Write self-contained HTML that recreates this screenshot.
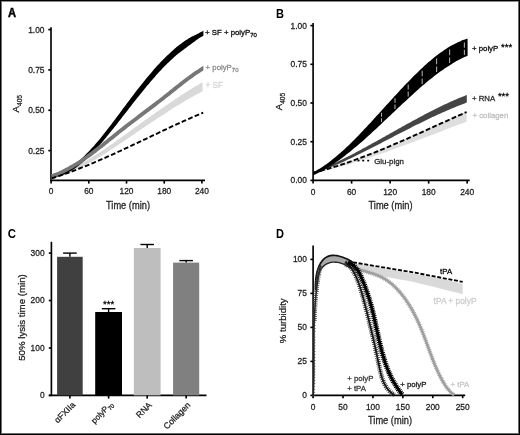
<!DOCTYPE html>
<html><head><meta charset="utf-8"><style>
html,body{margin:0;padding:0;background:#fff;}
body{width:520px;height:435px;overflow:hidden;position:relative;font-family:"Liberation Sans", sans-serif;}
svg text{font-family:"Liberation Sans", sans-serif;}
svg{will-change:transform;}
svg text{stroke-width:0.26px;}
.bd{position:absolute;background:#000;}
</style></head><body>
<svg width="520" height="435" viewBox="0 0 520 435" style="position:absolute;left:0;top:0">
<line x1="51.00" y1="27.30" x2="51.00" y2="181.10" stroke="#000" stroke-width="1.65" />
<line x1="50.30" y1="180.40" x2="205.00" y2="180.40" stroke="#000" stroke-width="1.65" />
<line x1="48.30" y1="29.60" x2="51.00" y2="29.60" stroke="#000" stroke-width="1.65" />
<text x="44.50" y="32.50" font-size="8.40" text-anchor="end" fill="#222" stroke="#222" font-weight="normal" >1.00</text>
<line x1="48.30" y1="69.93" x2="51.00" y2="69.93" stroke="#000" stroke-width="1.65" />
<text x="44.50" y="72.83" font-size="8.40" text-anchor="end" fill="#222" stroke="#222" font-weight="normal" >0.75</text>
<line x1="48.30" y1="110.27" x2="51.00" y2="110.27" stroke="#000" stroke-width="1.65" />
<text x="44.50" y="113.17" font-size="8.40" text-anchor="end" fill="#222" stroke="#222" font-weight="normal" >0.50</text>
<line x1="48.30" y1="150.60" x2="51.00" y2="150.60" stroke="#000" stroke-width="1.65" />
<text x="44.50" y="153.50" font-size="8.40" text-anchor="end" fill="#222" stroke="#222" font-weight="normal" >0.25</text>
<line x1="51.10" y1="180.40" x2="51.10" y2="183.60" stroke="#000" stroke-width="1.65" />
<text x="51.10" y="194.40" font-size="8.40" text-anchor="middle" fill="#222" stroke="#222" font-weight="normal" >0</text>
<line x1="88.81" y1="180.40" x2="88.81" y2="183.60" stroke="#000" stroke-width="1.65" />
<text x="88.81" y="194.40" font-size="8.40" text-anchor="middle" fill="#222" stroke="#222" font-weight="normal" >60</text>
<line x1="126.52" y1="180.40" x2="126.52" y2="183.60" stroke="#000" stroke-width="1.65" />
<text x="126.52" y="194.40" font-size="8.40" text-anchor="middle" fill="#222" stroke="#222" font-weight="normal" >120</text>
<line x1="164.23" y1="180.40" x2="164.23" y2="183.60" stroke="#000" stroke-width="1.65" />
<text x="164.23" y="194.40" font-size="8.40" text-anchor="middle" fill="#222" stroke="#222" font-weight="normal" >180</text>
<line x1="201.94" y1="180.40" x2="201.94" y2="183.60" stroke="#000" stroke-width="1.65" />
<text x="201.94" y="194.40" font-size="8.40" text-anchor="middle" fill="#222" stroke="#222" font-weight="normal" >240</text>
<text x="128.00" y="208.60" font-size="10.00" text-anchor="middle" fill="#222" stroke="#222" font-weight="normal" textLength="44" lengthAdjust="spacingAndGlyphs">Time (min)</text>
<text transform="translate(18.9,112.4) rotate(-90)" font-size="9.6" fill="#222" stroke="#222">A<tspan font-size="6.6" dy="3.0">405</tspan></text>
<text transform="translate(8.1,17.3) scale(0.93,1)" font-size="12" font-weight="bold" fill="#000" stroke="#000" style="stroke-width:0.45px">A</text>
<path d="M51.50,176.91 C51.83,176.80 52.83,176.48 53.50,176.25 C54.17,176.02 54.83,175.79 55.50,175.55 C56.17,175.31 56.83,175.06 57.50,174.81 C58.17,174.56 58.83,174.30 59.50,174.04 C60.17,173.77 60.83,173.50 61.50,173.23 C62.17,172.95 62.83,172.67 63.50,172.38 C64.17,172.10 64.83,171.80 65.50,171.51 C66.17,171.21 66.83,170.91 67.50,170.60 C68.17,170.29 68.83,169.97 69.50,169.66 C70.17,169.34 70.83,169.01 71.50,168.68 C72.17,168.35 72.83,168.02 73.50,167.68 C74.17,167.34 74.83,167.00 75.50,166.65 C76.17,166.30 76.83,165.95 77.50,165.59 C78.17,165.24 78.83,164.88 79.50,164.51 C80.17,164.14 80.83,163.77 81.50,163.40 C82.17,163.03 82.83,162.65 83.50,162.26 C84.17,161.88 84.83,161.50 85.50,161.11 C86.17,160.72 86.83,160.32 87.50,159.92 C88.17,159.53 88.83,159.12 89.50,158.72 C90.17,158.31 90.83,157.91 91.50,157.49 C92.17,157.08 92.83,156.67 93.50,156.25 C94.17,155.83 94.83,155.41 95.50,154.98 C96.17,154.56 96.83,154.13 97.50,153.70 C98.17,153.27 98.83,152.84 99.50,152.40 C100.17,151.96 100.83,151.52 101.50,151.08 C102.17,150.64 102.83,150.20 103.50,149.75 C104.17,149.30 104.83,148.86 105.50,148.40 C106.17,147.95 106.83,147.50 107.50,147.04 C108.17,146.59 108.83,146.13 109.50,145.67 C110.17,145.21 110.83,144.75 111.50,144.28 C112.17,143.82 112.83,143.36 113.50,142.89 C114.17,142.42 114.83,141.95 115.50,141.48 C116.17,141.01 116.83,140.54 117.50,140.07 C118.17,139.60 118.83,139.12 119.50,138.65 C120.17,138.17 120.83,137.69 121.50,137.22 C122.17,136.74 122.83,136.26 123.50,135.78 C124.17,135.30 124.83,134.82 125.50,134.34 C126.17,133.86 126.83,133.38 127.50,132.89 C128.17,132.41 128.83,131.93 129.50,131.44 C130.17,130.96 130.83,130.48 131.50,129.99 C132.17,129.51 132.83,129.03 133.50,128.54 C134.17,128.06 134.83,127.57 135.50,127.09 C136.17,126.60 136.83,126.12 137.50,125.64 C138.17,125.15 138.83,124.67 139.50,124.18 C140.17,123.70 140.83,123.22 141.50,122.74 C142.17,122.25 142.83,121.77 143.50,121.29 C144.17,120.81 144.83,120.33 145.50,119.85 C146.17,119.37 146.83,118.89 147.50,118.41 C148.17,117.93 148.83,117.46 149.50,116.98 C150.17,116.50 150.83,116.03 151.50,115.55 C152.17,115.08 152.83,114.61 153.50,114.13 C154.17,113.66 154.83,113.19 155.50,112.72 C156.17,112.25 156.83,111.78 157.50,111.31 C158.17,110.84 158.83,110.38 159.50,109.91 C160.17,109.45 160.83,108.98 161.50,108.52 C162.17,108.05 162.83,107.59 163.50,107.13 C164.17,106.67 164.83,106.21 165.50,105.76 C166.17,105.30 166.83,104.84 167.50,104.39 C168.17,103.93 168.83,103.48 169.50,103.03 C170.17,102.58 170.83,102.13 171.50,101.68 C172.17,101.23 172.83,100.78 173.50,100.34 C174.17,99.89 174.83,99.45 175.50,99.01 C176.17,98.57 176.83,98.13 177.50,97.69 C178.17,97.25 178.83,96.82 179.50,96.38 C180.17,95.95 180.83,95.52 181.50,95.09 C182.17,94.66 182.83,94.23 183.50,93.80 C184.17,93.38 184.83,92.95 185.50,92.53 C186.17,92.11 186.83,91.69 187.50,91.27 C188.17,90.85 188.83,90.44 189.50,90.03 C190.17,89.61 190.83,89.20 191.50,88.79 C192.17,88.39 192.83,87.98 193.50,87.58 C194.17,87.17 194.83,86.77 195.50,86.37 C196.17,85.97 196.83,85.58 197.50,85.18 C198.17,84.79 198.83,84.40 199.50,84.01 C200.17,83.62 200.98,83.15 201.50,82.85 C202.02,82.55 202.42,82.33 202.60,82.22 L202.60,91.22 C202.42,91.32 202.02,91.53 201.50,91.80 C200.98,92.08 200.17,92.52 199.50,92.88 C198.83,93.24 198.17,93.60 197.50,93.96 C196.83,94.33 196.17,94.70 195.50,95.07 C194.83,95.44 194.17,95.81 193.50,96.18 C192.83,96.56 192.17,96.94 191.50,97.32 C190.83,97.70 190.17,98.08 189.50,98.46 C188.83,98.85 188.17,99.23 187.50,99.62 C186.83,100.01 186.17,100.40 185.50,100.80 C184.83,101.19 184.17,101.58 183.50,101.98 C182.83,102.38 182.17,102.78 181.50,103.18 C180.83,103.58 180.17,103.98 179.50,104.39 C178.83,104.79 178.17,105.20 177.50,105.61 C176.83,106.02 176.17,106.43 175.50,106.84 C174.83,107.26 174.17,107.67 173.50,108.09 C172.83,108.50 172.17,108.92 171.50,109.34 C170.83,109.76 170.17,110.18 169.50,110.60 C168.83,111.03 168.17,111.45 167.50,111.88 C166.83,112.30 166.17,112.73 165.50,113.16 C164.83,113.59 164.17,114.02 163.50,114.45 C162.83,114.88 162.17,115.32 161.50,115.75 C160.83,116.18 160.17,116.62 159.50,117.06 C158.83,117.49 158.17,117.93 157.50,118.37 C156.83,118.81 156.17,119.25 155.50,119.69 C154.83,120.13 154.17,120.58 153.50,121.02 C152.83,121.47 152.17,121.91 151.50,122.36 C150.83,122.80 150.17,123.25 149.50,123.70 C148.83,124.14 148.17,124.59 147.50,125.04 C146.83,125.49 146.17,125.94 145.50,126.39 C144.83,126.84 144.17,127.30 143.50,127.75 C142.83,128.20 142.17,128.65 141.50,129.11 C140.83,129.56 140.17,130.02 139.50,130.47 C138.83,130.92 138.17,131.38 137.50,131.84 C136.83,132.29 136.17,132.75 135.50,133.20 C134.83,133.66 134.17,134.11 133.50,134.57 C132.83,135.02 132.17,135.48 131.50,135.94 C130.83,136.39 130.17,136.85 129.50,137.30 C128.83,137.75 128.17,138.21 127.50,138.66 C126.83,139.12 126.17,139.57 125.50,140.02 C124.83,140.47 124.17,140.93 123.50,141.38 C122.83,141.83 122.17,142.28 121.50,142.73 C120.83,143.18 120.17,143.62 119.50,144.07 C118.83,144.52 118.17,144.96 117.50,145.41 C116.83,145.85 116.17,146.29 115.50,146.74 C114.83,147.18 114.17,147.62 113.50,148.06 C112.83,148.49 112.17,148.93 111.50,149.37 C110.83,149.80 110.17,150.23 109.50,150.66 C108.83,151.10 108.17,151.53 107.50,151.95 C106.83,152.38 106.17,152.80 105.50,153.23 C104.83,153.65 104.17,154.07 103.50,154.49 C102.83,154.91 102.17,155.32 101.50,155.73 C100.83,156.15 100.17,156.56 99.50,156.97 C98.83,157.37 98.17,157.78 97.50,158.18 C96.83,158.58 96.17,158.98 95.50,159.38 C94.83,159.77 94.17,160.17 93.50,160.56 C92.83,160.95 92.17,161.33 91.50,161.71 C90.83,162.10 90.17,162.48 89.50,162.85 C88.83,163.23 88.17,163.60 87.50,163.97 C86.83,164.34 86.17,164.71 85.50,165.07 C84.83,165.43 84.17,165.79 83.50,166.14 C82.83,166.50 82.17,166.85 81.50,167.19 C80.83,167.54 80.17,167.88 79.50,168.21 C78.83,168.55 78.17,168.88 77.50,169.21 C76.83,169.54 76.17,169.87 75.50,170.18 C74.83,170.50 74.17,170.82 73.50,171.13 C72.83,171.44 72.17,171.74 71.50,172.04 C70.83,172.34 70.17,172.64 69.50,172.93 C68.83,173.22 68.17,173.51 67.50,173.78 C66.83,174.06 66.17,174.34 65.50,174.61 C64.83,174.88 64.17,175.14 63.50,175.40 C62.83,175.66 62.17,175.91 61.50,176.16 C60.83,176.40 60.17,176.65 59.50,176.88 C58.83,177.12 58.17,177.35 57.50,177.57 C56.83,177.79 56.17,178.01 55.50,178.22 C54.83,178.43 54.17,178.64 53.50,178.84 C52.83,179.04 51.83,179.32 51.50,179.41 Z" stroke="none" stroke-width="1.00" fill="#d9d9d9" />
<defs><clipPath id="clA"><rect x="40" y="20" width="163.4" height="170"/></clipPath></defs>
<path d="M51.39,174.41 C51.71,174.38 52.69,174.32 53.33,174.24 C53.97,174.17 54.60,174.07 55.23,173.95 C55.86,173.83 56.50,173.69 57.13,173.53 C57.77,173.37 58.40,173.19 59.04,172.99 C59.68,172.79 60.31,172.57 60.95,172.33 C61.59,172.08 62.23,171.82 62.87,171.54 C63.51,171.26 64.15,170.96 64.79,170.64 C65.43,170.32 66.08,169.99 66.72,169.63 C67.36,169.27 68.01,168.90 68.65,168.51 C69.30,168.12 69.95,167.71 70.59,167.28 C71.24,166.85 71.89,166.41 72.54,165.95 C73.18,165.49 73.83,165.01 74.48,164.52 C75.13,164.03 75.78,163.52 76.43,163.00 C77.08,162.48 77.74,161.94 78.39,161.38 C79.04,160.83 79.69,160.26 80.34,159.68 C81.00,159.10 81.65,158.50 82.30,157.89 C82.96,157.29 83.61,156.66 84.27,156.03 C84.92,155.39 85.58,154.74 86.23,154.09 C86.89,153.43 87.54,152.75 88.20,152.07 C88.85,151.39 89.51,150.69 90.17,149.99 C90.82,149.28 91.48,148.57 92.14,147.84 C92.79,147.12 93.45,146.38 94.11,145.64 C94.77,144.89 95.43,144.13 96.08,143.37 C96.74,142.61 97.40,141.84 98.06,141.06 C98.71,140.27 99.37,139.48 100.02,138.68 C100.68,137.89 101.33,137.08 101.99,136.26 C102.64,135.45 103.30,134.63 103.96,133.81 C104.61,132.98 105.27,132.15 105.92,131.31 C106.58,130.47 107.23,129.63 107.89,128.78 C108.55,127.93 109.20,127.08 109.86,126.22 C110.51,125.37 111.17,124.50 111.83,123.64 C112.48,122.77 113.14,121.91 113.80,121.03 C114.45,120.16 115.11,119.29 115.77,118.41 C116.43,117.54 117.08,116.66 117.74,115.78 C118.40,114.90 119.06,114.02 119.71,113.13 C120.37,112.25 121.03,111.37 121.69,110.48 C122.35,109.60 123.00,108.72 123.66,107.83 C124.32,106.95 124.98,106.06 125.64,105.18 C126.30,104.30 126.96,103.42 127.62,102.54 C128.27,101.66 128.93,100.78 129.59,99.90 C130.25,99.03 130.91,98.15 131.57,97.28 C132.23,96.41 132.89,95.54 133.55,94.68 C134.21,93.81 134.87,92.95 135.53,92.09 C136.19,91.23 136.86,90.38 137.52,89.53 C138.18,88.68 138.84,87.83 139.50,86.99 C140.16,86.15 140.82,85.31 141.48,84.48 C142.14,83.64 142.81,82.81 143.47,81.99 C144.13,81.17 144.79,80.35 145.46,79.54 C146.12,78.72 146.78,77.92 147.44,77.12 C148.11,76.31 148.77,75.52 149.44,74.73 C150.10,73.95 150.77,73.16 151.43,72.39 C152.10,71.61 152.77,70.85 153.43,70.09 C154.10,69.33 154.76,68.57 155.43,67.83 C156.10,67.08 156.77,66.34 157.43,65.61 C158.10,64.88 158.77,64.16 159.44,63.44 C160.11,62.73 160.77,62.02 161.44,61.32 C162.11,60.62 162.78,59.93 163.45,59.25 C164.12,58.57 164.79,57.90 165.47,57.24 C166.14,56.58 166.81,55.93 167.48,55.29 C168.15,54.64 168.83,54.01 169.50,53.39 C170.17,52.77 170.84,52.15 171.52,51.55 C172.19,50.94 172.86,50.35 173.54,49.76 C174.21,49.18 174.88,48.60 175.56,48.04 C176.23,47.47 176.91,46.91 177.58,46.36 C178.26,45.81 178.93,45.27 179.60,44.74 C180.28,44.21 180.95,43.69 181.63,43.18 C182.31,42.66 182.98,42.16 183.66,41.67 C184.35,41.18 185.04,40.72 185.73,40.26 C186.43,39.81 187.13,39.38 187.83,38.95 C188.53,38.53 189.24,38.13 189.95,37.73 C190.65,37.33 191.37,36.95 192.07,36.58 C192.78,36.21 193.49,35.84 194.20,35.49 C194.91,35.13 195.61,34.78 196.32,34.43 C197.02,34.08 197.72,33.74 198.41,33.40 C199.11,33.05 199.96,32.63 200.48,32.37 C200.99,32.11 200.83,32.20 201.50,31.86 C202.17,31.51 204.00,30.55 204.50,30.29 L206.50,34.10 C206.00,34.36 204.16,35.32 203.50,35.67 C202.84,36.02 203.01,35.93 202.52,36.21 C202.04,36.48 201.23,36.95 200.59,37.34 C199.95,37.73 199.31,38.14 198.68,38.56 C198.05,38.97 197.43,39.40 196.80,39.84 C196.17,40.28 195.55,40.73 194.93,41.18 C194.30,41.63 193.68,42.09 193.05,42.56 C192.43,43.02 191.80,43.49 191.17,43.96 C190.54,44.42 189.91,44.90 189.27,45.37 C188.63,45.84 187.99,46.31 187.34,46.78 C186.69,47.26 186.03,47.72 185.37,48.20 C184.71,48.68 184.05,49.17 183.40,49.66 C182.74,50.16 182.08,50.66 181.42,51.18 C180.76,51.69 180.10,52.22 179.44,52.75 C178.78,53.28 178.12,53.82 177.46,54.37 C176.80,54.92 176.14,55.48 175.48,56.05 C174.82,56.62 174.16,57.20 173.50,57.79 C172.84,58.38 172.18,58.98 171.52,59.59 C170.86,60.20 170.20,60.82 169.53,61.45 C168.87,62.07 168.21,62.71 167.55,63.36 C166.88,64.01 166.22,64.67 165.56,65.34 C164.89,66.00 164.23,66.68 163.56,67.37 C162.90,68.05 162.23,68.75 161.57,69.45 C160.90,70.16 160.24,70.87 159.57,71.59 C158.90,72.31 158.24,73.04 157.57,73.77 C156.90,74.51 156.23,75.25 155.57,76.00 C154.90,76.75 154.23,77.51 153.56,78.28 C152.89,79.04 152.23,79.81 151.56,80.59 C150.89,81.37 150.22,82.15 149.54,82.94 C148.87,83.73 148.20,84.53 147.53,85.33 C146.86,86.13 146.19,86.93 145.52,87.75 C144.84,88.56 144.17,89.37 143.50,90.20 C142.83,91.02 142.16,91.84 141.48,92.68 C140.81,93.51 140.14,94.34 139.47,95.18 C138.79,96.02 138.12,96.86 137.45,97.71 C136.77,98.56 136.10,99.41 135.43,100.26 C134.75,101.12 134.08,101.97 133.41,102.83 C132.73,103.69 132.06,104.55 131.38,105.42 C130.71,106.28 130.04,107.15 129.36,108.02 C128.69,108.89 128.01,109.76 127.34,110.63 C126.66,111.50 125.99,112.37 125.31,113.24 C124.64,114.11 123.96,114.98 123.29,115.85 C122.61,116.72 121.93,117.59 121.26,118.46 C120.58,119.33 119.91,120.20 119.23,121.06 C118.55,121.93 117.88,122.79 117.20,123.66 C116.53,124.52 115.85,125.38 115.17,126.23 C114.50,127.09 113.82,127.94 113.14,128.79 C112.46,129.64 111.79,130.48 111.11,131.32 C110.43,132.16 109.76,133.00 109.08,133.83 C108.40,134.66 107.72,135.49 107.04,136.31 C106.37,137.13 105.69,137.94 105.01,138.75 C104.33,139.56 103.65,140.36 102.98,141.15 C102.30,141.95 101.62,142.74 100.94,143.52 C100.27,144.30 99.59,145.08 98.92,145.84 C98.24,146.61 97.57,147.37 96.89,148.12 C96.21,148.87 95.54,149.61 94.86,150.34 C94.19,151.07 93.51,151.79 92.83,152.50 C92.16,153.21 91.48,153.91 90.80,154.60 C90.12,155.29 89.45,155.97 88.77,156.64 C88.09,157.30 87.41,157.96 86.73,158.60 C86.05,159.24 85.37,159.87 84.70,160.49 C84.02,161.11 83.34,161.72 82.66,162.31 C81.97,162.90 81.29,163.48 80.61,164.04 C79.93,164.60 79.25,165.15 78.57,165.69 C77.88,166.22 77.20,166.74 76.52,167.25 C75.83,167.75 75.15,168.24 74.46,168.71 C73.78,169.18 73.09,169.64 72.41,170.08 C71.72,170.52 71.03,170.94 70.35,171.34 C69.66,171.75 68.97,172.14 68.28,172.50 C67.59,172.87 66.90,173.22 66.21,173.55 C65.52,173.88 64.82,174.20 64.13,174.49 C63.44,174.78 62.74,175.05 62.05,175.30 C61.35,175.55 60.66,175.78 59.96,175.99 C59.26,176.20 58.57,176.39 57.87,176.55 C57.17,176.72 56.47,176.86 55.77,176.98 C55.07,177.10 54.36,177.20 53.67,177.27 C52.97,177.34 51.96,177.38 51.61,177.41 Z" stroke="none" stroke-width="1.00" fill="#000" clip-path="url(#clA)"/>
<path d="M50.91,174.32 C51.24,174.21 52.23,173.89 52.88,173.67 C53.54,173.44 54.18,173.21 54.83,172.97 C55.48,172.72 56.14,172.47 56.79,172.20 C57.44,171.94 58.09,171.67 58.75,171.38 C59.40,171.10 60.05,170.81 60.71,170.51 C61.36,170.21 62.01,169.90 62.67,169.58 C63.32,169.26 63.98,168.94 64.63,168.60 C65.29,168.27 65.95,167.92 66.60,167.57 C67.26,167.22 67.91,166.86 68.57,166.50 C69.23,166.13 69.89,165.76 70.54,165.37 C71.20,164.99 71.86,164.60 72.52,164.21 C73.18,163.81 73.84,163.41 74.49,163.00 C75.15,162.59 75.81,162.18 76.47,161.75 C77.13,161.33 77.79,160.90 78.45,160.47 C79.11,160.04 79.77,159.59 80.43,159.15 C81.09,158.70 81.75,158.25 82.42,157.80 C83.08,157.34 83.74,156.88 84.40,156.41 C85.06,155.95 85.72,155.47 86.38,155.00 C87.05,154.52 87.71,154.04 88.37,153.56 C89.03,153.07 89.70,152.58 90.36,152.09 C91.02,151.60 91.69,151.10 92.35,150.60 C93.01,150.10 93.68,149.60 94.34,149.09 C95.00,148.59 95.67,148.08 96.33,147.56 C96.99,147.05 97.66,146.54 98.32,146.02 C98.99,145.50 99.65,144.98 100.32,144.46 C100.98,143.94 101.65,143.41 102.31,142.89 C102.98,142.36 103.64,141.83 104.31,141.30 C104.97,140.77 105.64,140.24 106.30,139.71 C106.97,139.18 107.64,138.65 108.30,138.11 C108.97,137.58 109.63,137.05 110.30,136.51 C110.97,135.98 111.63,135.44 112.30,134.91 C112.97,134.37 113.63,133.84 114.30,133.30 C114.97,132.77 115.63,132.24 116.30,131.70 C116.97,131.17 117.64,130.64 118.30,130.10 C118.97,129.57 119.64,129.04 120.31,128.51 C120.97,127.98 121.64,127.45 122.31,126.93 C122.98,126.40 123.65,125.88 124.32,125.36 C124.98,124.83 125.65,124.31 126.32,123.79 C126.99,123.28 127.66,122.76 128.33,122.24 C128.99,121.73 129.66,121.22 130.33,120.70 C131.00,120.19 131.66,119.68 132.33,119.17 C133.00,118.66 133.67,118.16 134.34,117.65 C135.00,117.14 135.67,116.64 136.34,116.13 C137.00,115.63 137.67,115.13 138.34,114.62 C139.01,114.12 139.67,113.62 140.34,113.11 C141.01,112.61 141.67,112.11 142.34,111.61 C143.01,111.11 143.67,110.60 144.34,110.10 C145.01,109.60 145.67,109.10 146.34,108.60 C147.00,108.10 147.67,107.59 148.34,107.09 C149.00,106.59 149.67,106.09 150.33,105.58 C151.00,105.08 151.67,104.57 152.33,104.07 C153.00,103.56 153.66,103.06 154.33,102.55 C154.99,102.04 155.66,101.53 156.32,101.02 C156.99,100.51 157.65,100.00 158.32,99.49 C158.98,98.98 159.65,98.46 160.31,97.95 C160.98,97.43 161.64,96.91 162.31,96.39 C162.97,95.87 163.64,95.35 164.30,94.83 C164.97,94.30 165.63,93.78 166.30,93.25 C166.96,92.72 167.63,92.19 168.29,91.66 C168.96,91.13 169.62,90.60 170.29,90.07 C170.96,89.53 171.62,89.00 172.29,88.47 C172.96,87.93 173.62,87.40 174.29,86.87 C174.96,86.33 175.62,85.80 176.29,85.27 C176.96,84.74 177.63,84.21 178.30,83.68 C178.97,83.15 179.63,82.63 180.30,82.10 C180.97,81.58 181.64,81.06 182.31,80.54 C182.98,80.02 183.65,79.50 184.32,78.99 C184.99,78.48 185.66,77.97 186.33,77.46 C187.00,76.96 187.67,76.45 188.34,75.96 C189.01,75.46 189.69,74.97 190.36,74.48 C191.03,73.99 191.70,73.51 192.38,73.03 C193.05,72.56 193.72,72.09 194.40,71.62 C195.07,71.16 195.74,70.70 196.42,70.25 C197.09,69.80 197.77,69.35 198.44,68.91 C199.12,68.48 199.97,67.94 200.46,67.63 C200.95,67.32 200.72,67.47 201.38,67.06 C202.03,66.66 203.87,65.52 204.37,65.21 L206.43,68.53 C205.93,68.83 204.07,69.98 203.42,70.38 C202.78,70.78 203.02,70.63 202.54,70.93 C202.06,71.23 201.22,71.76 200.56,72.18 C199.90,72.61 199.24,73.04 198.58,73.48 C197.92,73.92 197.26,74.37 196.60,74.83 C195.95,75.28 195.28,75.74 194.62,76.21 C193.96,76.68 193.30,77.15 192.64,77.63 C191.98,78.11 191.32,78.59 190.66,79.08 C189.99,79.57 189.33,80.07 188.67,80.57 C188.01,81.07 187.34,81.57 186.68,82.08 C186.02,82.58 185.35,83.10 184.69,83.61 C184.03,84.12 183.36,84.64 182.70,85.16 C182.03,85.68 181.37,86.20 180.70,86.73 C180.04,87.25 179.37,87.78 178.71,88.31 C178.04,88.84 177.38,89.37 176.71,89.90 C176.04,90.43 175.38,90.96 174.71,91.50 C174.04,92.03 173.38,92.56 172.71,93.10 C172.04,93.63 171.38,94.16 170.71,94.69 C170.04,95.23 169.37,95.76 168.70,96.29 C168.04,96.82 167.37,97.35 166.70,97.87 C166.03,98.40 165.36,98.92 164.69,99.45 C164.02,99.97 163.36,100.49 162.69,101.01 C162.02,101.53 161.35,102.04 160.68,102.56 C160.01,103.07 159.34,103.58 158.68,104.10 C158.01,104.61 157.34,105.12 156.67,105.63 C156.00,106.14 155.34,106.64 154.67,107.15 C154.00,107.66 153.33,108.16 152.67,108.67 C152.00,109.17 151.33,109.67 150.66,110.18 C150.00,110.68 149.33,111.18 148.66,111.68 C147.99,112.19 147.33,112.69 146.66,113.19 C145.99,113.69 145.33,114.19 144.66,114.69 C143.99,115.19 143.33,115.69 142.66,116.20 C141.99,116.70 141.33,117.20 140.66,117.70 C139.99,118.20 139.33,118.71 138.66,119.21 C138.00,119.71 137.33,120.22 136.66,120.72 C136.00,121.23 135.33,121.73 134.67,122.24 C134.00,122.75 133.34,123.25 132.67,123.76 C132.01,124.27 131.34,124.78 130.67,125.29 C130.01,125.81 129.34,126.32 128.68,126.84 C128.01,127.35 127.35,127.87 126.68,128.39 C126.02,128.91 125.35,129.43 124.69,129.95 C124.02,130.47 123.36,131.00 122.69,131.53 C122.03,132.05 121.36,132.58 120.70,133.11 C120.03,133.64 119.37,134.17 118.70,134.70 C118.03,135.24 117.37,135.77 116.70,136.30 C116.03,136.84 115.37,137.37 114.70,137.90 C114.03,138.44 113.37,138.97 112.70,139.51 C112.03,140.04 111.37,140.58 110.70,141.11 C110.03,141.64 109.36,142.18 108.70,142.71 C108.03,143.24 107.36,143.78 106.69,144.31 C106.03,144.84 105.36,145.37 104.69,145.89 C104.02,146.42 103.35,146.95 102.68,147.47 C102.01,148.00 101.35,148.52 100.68,149.04 C100.01,149.56 99.34,150.08 98.67,150.60 C98.00,151.11 97.33,151.63 96.66,152.14 C95.99,152.65 95.32,153.16 94.65,153.66 C93.98,154.16 93.31,154.67 92.64,155.16 C91.97,155.66 91.30,156.15 90.63,156.64 C89.96,157.13 89.29,157.62 88.62,158.10 C87.94,158.59 87.27,159.06 86.60,159.54 C85.93,160.01 85.26,160.48 84.58,160.94 C83.91,161.40 83.24,161.86 82.57,162.32 C81.89,162.77 81.22,163.22 80.55,163.66 C79.88,164.10 79.20,164.54 78.53,164.97 C77.85,165.40 77.18,165.82 76.51,166.24 C75.83,166.66 75.16,167.07 74.48,167.48 C73.81,167.88 73.13,168.28 72.46,168.67 C71.78,169.06 71.10,169.45 70.43,169.83 C69.75,170.20 69.08,170.57 68.40,170.93 C67.72,171.30 67.04,171.65 66.37,172.00 C65.69,172.34 65.01,172.68 64.33,173.01 C63.65,173.34 62.97,173.66 62.29,173.97 C61.61,174.28 60.93,174.58 60.25,174.88 C59.57,175.17 58.89,175.46 58.21,175.73 C57.53,176.01 56.85,176.27 56.17,176.53 C55.48,176.78 54.80,177.03 54.12,177.26 C53.44,177.50 52.43,177.82 52.09,177.93 Z" stroke="none" stroke-width="1.00" fill="#777777" clip-path="url(#clA)"/>
<path d="M51.50,178.35 L53.50,177.73 L55.50,177.09 L57.50,176.44 L59.50,175.78 L61.50,175.11 L63.50,174.42 L65.50,173.72 L67.50,173.01 L69.50,172.29 L71.50,171.55 L73.50,170.81 L75.50,170.05 L77.50,169.28 L79.50,168.51 L81.50,167.72 L83.50,166.92 L85.50,166.11 L87.50,165.30 L89.50,164.48 L91.50,163.64 L93.50,162.80 L95.50,161.95 L97.50,161.10 L99.50,160.23 L101.50,159.36 L103.50,158.48 L105.50,157.60 L107.50,156.71 L109.50,155.81 L111.50,154.91 L113.50,154.01 L115.50,153.09 L117.50,152.18 L119.50,151.26 L121.50,150.33 L123.50,149.40 L125.50,148.47 L127.50,147.53 L129.50,146.60 L131.50,145.65 L133.50,144.71 L135.50,143.76 L137.50,142.82 L139.50,141.87 L141.50,140.92 L143.50,139.97 L145.50,139.02 L147.50,138.06 L149.50,137.11 L151.50,136.16 L153.50,135.21 L155.50,134.26 L157.50,133.31 L159.50,132.37 L161.50,131.42 L163.50,130.48 L165.50,129.54 L167.50,128.60 L169.50,127.66 L171.50,126.73 L173.50,125.80 L175.50,124.88 L177.50,123.95 L179.50,123.04 L181.50,122.13 L183.50,121.22 L185.50,120.32 L187.50,119.42 L189.50,118.53 L191.50,117.65 L193.50,116.77 L195.50,115.90 L197.50,115.04 L199.50,114.18 L201.50,113.33 L203.20,112.62" stroke="#000" stroke-width="1.90" fill="none" stroke-dasharray="4.8 2.3"/>
<text x="205.10" y="35.20" font-size="7.80" text-anchor="start" fill="#000" stroke="#000" font-weight="normal" >+ SF + polyP<tspan font-size="6.0" dy="2.2">70</tspan></text>
<text x="205.60" y="70.20" font-size="7.80" text-anchor="start" fill="#888888" stroke="#888888" font-weight="normal" >+ polyP<tspan font-size="6.0" dy="2.2">70</tspan></text>
<text x="205.40" y="88.20" font-size="8.20" text-anchor="start" fill="#d4d4d4" stroke="#d4d4d4" font-weight="normal" >+ SF</text>
<line x1="313.10" y1="23.00" x2="313.10" y2="181.10" stroke="#000" stroke-width="1.65" />
<line x1="312.40" y1="180.40" x2="469.70" y2="180.40" stroke="#000" stroke-width="1.65" />
<line x1="310.40" y1="25.60" x2="313.10" y2="25.60" stroke="#000" stroke-width="1.65" />
<text x="306.90" y="28.50" font-size="8.40" text-anchor="end" fill="#222" stroke="#222" font-weight="normal" >1.00</text>
<line x1="310.40" y1="64.30" x2="313.10" y2="64.30" stroke="#000" stroke-width="1.65" />
<text x="306.90" y="67.20" font-size="8.40" text-anchor="end" fill="#222" stroke="#222" font-weight="normal" >0.75</text>
<line x1="310.40" y1="103.00" x2="313.10" y2="103.00" stroke="#000" stroke-width="1.65" />
<text x="306.90" y="105.90" font-size="8.40" text-anchor="end" fill="#222" stroke="#222" font-weight="normal" >0.50</text>
<line x1="310.40" y1="141.70" x2="313.10" y2="141.70" stroke="#000" stroke-width="1.65" />
<text x="306.90" y="144.60" font-size="8.40" text-anchor="end" fill="#222" stroke="#222" font-weight="normal" >0.25</text>
<line x1="310.40" y1="180.40" x2="313.10" y2="180.40" stroke="#000" stroke-width="1.65" />
<text x="306.90" y="183.30" font-size="8.40" text-anchor="end" fill="#222" stroke="#222" font-weight="normal" >0.00</text>
<line x1="313.10" y1="180.40" x2="313.10" y2="183.60" stroke="#000" stroke-width="1.65" />
<text x="313.10" y="194.60" font-size="8.40" text-anchor="middle" fill="#222" stroke="#222" font-weight="normal" >0</text>
<line x1="351.62" y1="180.40" x2="351.62" y2="183.60" stroke="#000" stroke-width="1.65" />
<text x="351.62" y="194.60" font-size="8.40" text-anchor="middle" fill="#222" stroke="#222" font-weight="normal" >60</text>
<line x1="390.14" y1="180.40" x2="390.14" y2="183.60" stroke="#000" stroke-width="1.65" />
<text x="390.14" y="194.60" font-size="8.40" text-anchor="middle" fill="#222" stroke="#222" font-weight="normal" >120</text>
<line x1="428.66" y1="180.40" x2="428.66" y2="183.60" stroke="#000" stroke-width="1.65" />
<text x="428.66" y="194.60" font-size="8.40" text-anchor="middle" fill="#222" stroke="#222" font-weight="normal" >180</text>
<line x1="467.18" y1="180.40" x2="467.18" y2="183.60" stroke="#000" stroke-width="1.65" />
<text x="467.18" y="194.60" font-size="8.40" text-anchor="middle" fill="#222" stroke="#222" font-weight="normal" >240</text>
<text x="390.50" y="208.80" font-size="10.00" text-anchor="middle" fill="#222" stroke="#222" font-weight="normal" textLength="44" lengthAdjust="spacingAndGlyphs">Time (min)</text>
<text transform="translate(282.2,110.2) rotate(-90)" font-size="9.6" fill="#222" stroke="#222">A<tspan font-size="6.6" dy="3.0">405</tspan></text>
<text transform="translate(276.0,17.7) scale(0.92,1)" font-size="12" font-weight="bold" fill="#000">B</text>
<path d="M313.00,172.47 C313.33,172.39 314.33,172.14 315.00,171.98 C315.67,171.81 316.33,171.64 317.00,171.47 C317.67,171.29 318.33,171.12 319.00,170.94 C319.67,170.77 320.33,170.59 321.00,170.41 C321.67,170.22 322.33,170.04 323.00,169.86 C323.67,169.67 324.33,169.48 325.00,169.29 C325.67,169.10 326.33,168.91 327.00,168.72 C327.67,168.53 328.33,168.33 329.00,168.13 C329.67,167.93 330.33,167.73 331.00,167.53 C331.67,167.33 332.33,167.13 333.00,166.92 C333.67,166.72 334.33,166.51 335.00,166.30 C335.67,166.09 336.33,165.88 337.00,165.67 C337.67,165.46 338.33,165.24 339.00,165.02 C339.67,164.81 340.33,164.59 341.00,164.37 C341.67,164.15 342.33,163.93 343.00,163.70 C343.67,163.48 344.33,163.26 345.00,163.03 C345.67,162.80 346.33,162.57 347.00,162.34 C347.67,162.11 348.33,161.88 349.00,161.65 C349.67,161.41 350.33,161.18 351.00,160.94 C351.67,160.70 352.33,160.47 353.00,160.23 C353.67,159.99 354.33,159.74 355.00,159.50 C355.67,159.26 356.33,159.01 357.00,158.77 C357.67,158.52 358.33,158.28 359.00,158.03 C359.67,157.78 360.33,157.53 361.00,157.28 C361.67,157.02 362.33,156.77 363.00,156.52 C363.67,156.26 364.33,156.01 365.00,155.75 C365.67,155.49 366.33,155.23 367.00,154.97 C367.67,154.72 368.33,154.45 369.00,154.19 C369.67,153.93 370.33,153.67 371.00,153.40 C371.67,153.14 372.33,152.87 373.00,152.60 C373.67,152.34 374.33,152.07 375.00,151.80 C375.67,151.53 376.33,151.26 377.00,150.99 C377.67,150.72 378.33,150.45 379.00,150.17 C379.67,149.90 380.33,149.62 381.00,149.35 C381.67,149.07 382.33,148.79 383.00,148.52 C383.67,148.24 384.33,147.96 385.00,147.68 C385.67,147.40 386.33,147.12 387.00,146.84 C387.67,146.56 388.33,146.28 389.00,145.99 C389.67,145.71 390.33,145.42 391.00,145.14 C391.67,144.85 392.33,144.57 393.00,144.28 C393.67,144.00 394.33,143.71 395.00,143.42 C395.67,143.13 396.33,142.84 397.00,142.55 C397.67,142.26 398.33,141.97 399.00,141.68 C399.67,141.39 400.33,141.10 401.00,140.81 C401.67,140.51 402.33,140.22 403.00,139.93 C403.67,139.63 404.33,139.34 405.00,139.04 C405.67,138.75 406.33,138.45 407.00,138.16 C407.67,137.86 408.33,137.56 409.00,137.27 C409.67,136.97 410.33,136.67 411.00,136.37 C411.67,136.08 412.33,135.78 413.00,135.48 C413.67,135.18 414.33,134.88 415.00,134.58 C415.67,134.28 416.33,133.98 417.00,133.68 C417.67,133.38 418.33,133.08 419.00,132.78 C419.67,132.48 420.33,132.17 421.00,131.87 C421.67,131.57 422.33,131.27 423.00,130.97 C423.67,130.66 424.33,130.36 425.00,130.06 C425.67,129.76 426.33,129.45 427.00,129.15 C427.67,128.85 428.33,128.54 429.00,128.24 C429.67,127.94 430.33,127.63 431.00,127.33 C431.67,127.03 432.33,126.72 433.00,126.42 C433.67,126.11 434.33,125.81 435.00,125.51 C435.67,125.20 436.33,124.90 437.00,124.59 C437.67,124.29 438.33,123.99 439.00,123.68 C439.67,123.38 440.33,123.08 441.00,122.77 C441.67,122.47 442.33,122.16 443.00,121.86 C443.67,121.56 444.33,121.25 445.00,120.95 C445.67,120.65 446.33,120.34 447.00,120.04 C447.67,119.74 448.33,119.44 449.00,119.13 C449.67,118.83 450.33,118.53 451.00,118.23 C451.67,117.93 452.33,117.62 453.00,117.32 C453.67,117.02 454.33,116.72 455.00,116.42 C455.67,116.12 456.33,115.82 457.00,115.52 C457.67,115.22 458.33,114.92 459.00,114.62 C459.67,114.32 460.33,114.02 461.00,113.72 C461.67,113.43 462.33,113.13 463.00,112.83 C463.67,112.53 464.40,112.21 465.00,111.94 C465.60,111.67 466.33,111.35 466.60,111.23 L466.60,121.83 C466.33,121.93 465.60,122.19 465.00,122.41 C464.40,122.63 463.67,122.90 463.00,123.15 C462.33,123.39 461.67,123.64 461.00,123.88 C460.33,124.13 459.67,124.37 459.00,124.62 C458.33,124.87 457.67,125.11 457.00,125.36 C456.33,125.61 455.67,125.86 455.00,126.11 C454.33,126.36 453.67,126.61 453.00,126.86 C452.33,127.11 451.67,127.36 451.00,127.61 C450.33,127.86 449.67,128.11 449.00,128.36 C448.33,128.61 447.67,128.86 447.00,129.11 C446.33,129.37 445.67,129.62 445.00,129.87 C444.33,130.12 443.67,130.38 443.00,130.63 C442.33,130.88 441.67,131.14 441.00,131.39 C440.33,131.64 439.67,131.90 439.00,132.15 C438.33,132.40 437.67,132.66 437.00,132.91 C436.33,133.17 435.67,133.42 435.00,133.67 C434.33,133.93 433.67,134.18 433.00,134.44 C432.33,134.69 431.67,134.95 431.00,135.20 C430.33,135.46 429.67,135.71 429.00,135.97 C428.33,136.22 427.67,136.48 427.00,136.73 C426.33,136.98 425.67,137.24 425.00,137.49 C424.33,137.75 423.67,138.00 423.00,138.26 C422.33,138.51 421.67,138.76 421.00,139.02 C420.33,139.27 419.67,139.53 419.00,139.78 C418.33,140.03 417.67,140.29 417.00,140.54 C416.33,140.79 415.67,141.05 415.00,141.30 C414.33,141.55 413.67,141.80 413.00,142.06 C412.33,142.31 411.67,142.56 411.00,142.81 C410.33,143.06 409.67,143.31 409.00,143.56 C408.33,143.82 407.67,144.07 407.00,144.32 C406.33,144.57 405.67,144.82 405.00,145.07 C404.33,145.31 403.67,145.56 403.00,145.81 C402.33,146.06 401.67,146.31 401.00,146.55 C400.33,146.80 399.67,147.05 399.00,147.30 C398.33,147.54 397.67,147.79 397.00,148.03 C396.33,148.28 395.67,148.52 395.00,148.77 C394.33,149.01 393.67,149.25 393.00,149.50 C392.33,149.74 391.67,149.98 391.00,150.22 C390.33,150.46 389.67,150.70 389.00,150.94 C388.33,151.18 387.67,151.42 387.00,151.66 C386.33,151.90 385.67,152.14 385.00,152.38 C384.33,152.61 383.67,152.85 383.00,153.09 C382.33,153.32 381.67,153.56 381.00,153.79 C380.33,154.02 379.67,154.26 379.00,154.49 C378.33,154.72 377.67,154.95 377.00,155.18 C376.33,155.41 375.67,155.64 375.00,155.87 C374.33,156.10 373.67,156.33 373.00,156.55 C372.33,156.78 371.67,157.00 371.00,157.23 C370.33,157.45 369.67,157.68 369.00,157.90 C368.33,158.12 367.67,158.34 367.00,158.56 C366.33,158.78 365.67,159.00 365.00,159.22 C364.33,159.44 363.67,159.66 363.00,159.87 C362.33,160.09 361.67,160.30 361.00,160.52 C360.33,160.73 359.67,160.94 359.00,161.15 C358.33,161.36 357.67,161.57 357.00,161.78 C356.33,161.99 355.67,162.20 355.00,162.41 C354.33,162.61 353.67,162.82 353.00,163.02 C352.33,163.23 351.67,163.43 351.00,163.63 C350.33,163.83 349.67,164.03 349.00,164.23 C348.33,164.43 347.67,164.62 347.00,164.82 C346.33,165.02 345.67,165.21 345.00,165.40 C344.33,165.60 343.67,165.79 343.00,165.98 C342.33,166.17 341.67,166.36 341.00,166.54 C340.33,166.73 339.67,166.92 339.00,167.10 C338.33,167.29 337.67,167.47 337.00,167.65 C336.33,167.83 335.67,168.01 335.00,168.19 C334.33,168.37 333.67,168.55 333.00,168.72 C332.33,168.90 331.67,169.07 331.00,169.25 C330.33,169.42 329.67,169.59 329.00,169.76 C328.33,169.93 327.67,170.10 327.00,170.26 C326.33,170.43 325.67,170.60 325.00,170.76 C324.33,170.92 323.67,171.09 323.00,171.25 C322.33,171.41 321.67,171.57 321.00,171.72 C320.33,171.88 319.67,172.04 319.00,172.19 C318.33,172.35 317.67,172.50 317.00,172.66 C316.33,172.81 315.67,172.96 315.00,173.11 C314.33,173.27 313.33,173.50 313.00,173.57 Z" stroke="none" stroke-width="1.00" fill="#dedede" />
<path d="M313.00,172.60 C313.33,172.47 314.33,172.07 315.00,171.80 C315.67,171.53 316.33,171.26 317.00,170.99 C317.67,170.71 318.33,170.44 319.00,170.16 C319.67,169.88 320.33,169.60 321.00,169.31 C321.67,169.03 322.33,168.74 323.00,168.45 C323.67,168.16 324.33,167.87 325.00,167.57 C325.67,167.27 326.33,166.98 327.00,166.68 C327.67,166.38 328.33,166.07 329.00,165.77 C329.67,165.47 330.33,165.16 331.00,164.85 C331.67,164.54 332.33,164.23 333.00,163.91 C333.67,163.60 334.33,163.28 335.00,162.97 C335.67,162.65 336.33,162.33 337.00,162.01 C337.67,161.68 338.33,161.36 339.00,161.03 C339.67,160.71 340.33,160.38 341.00,160.05 C341.67,159.72 342.33,159.39 343.00,159.05 C343.67,158.72 344.33,158.39 345.00,158.05 C345.67,157.71 346.33,157.37 347.00,157.03 C347.67,156.69 348.33,156.35 349.00,156.01 C349.67,155.66 350.33,155.32 351.00,154.97 C351.67,154.63 352.33,154.28 353.00,153.93 C353.67,153.58 354.33,153.23 355.00,152.88 C355.67,152.52 356.33,152.17 357.00,151.82 C357.67,151.46 358.33,151.10 359.00,150.75 C359.67,150.39 360.33,150.03 361.00,149.67 C361.67,149.31 362.33,148.95 363.00,148.59 C363.67,148.23 364.33,147.87 365.00,147.50 C365.67,147.14 366.33,146.78 367.00,146.41 C367.67,146.05 368.33,145.68 369.00,145.31 C369.67,144.95 370.33,144.58 371.00,144.21 C371.67,143.84 372.33,143.47 373.00,143.10 C373.67,142.73 374.33,142.36 375.00,141.99 C375.67,141.62 376.33,141.25 377.00,140.88 C377.67,140.51 378.33,140.14 379.00,139.76 C379.67,139.39 380.33,139.02 381.00,138.64 C381.67,138.27 382.33,137.90 383.00,137.52 C383.67,137.15 384.33,136.77 385.00,136.40 C385.67,136.03 386.33,135.65 387.00,135.28 C387.67,134.90 388.33,134.53 389.00,134.15 C389.67,133.78 390.33,133.40 391.00,133.03 C391.67,132.65 392.33,132.28 393.00,131.91 C393.67,131.53 394.33,131.16 395.00,130.78 C395.67,130.41 396.33,130.04 397.00,129.66 C397.67,129.29 398.33,128.92 399.00,128.54 C399.67,128.17 400.33,127.80 401.00,127.43 C401.67,127.05 402.33,126.68 403.00,126.31 C403.67,125.94 404.33,125.57 405.00,125.20 C405.67,124.83 406.33,124.46 407.00,124.09 C407.67,123.72 408.33,123.36 409.00,122.99 C409.67,122.62 410.33,122.26 411.00,121.89 C411.67,121.52 412.33,121.16 413.00,120.80 C413.67,120.43 414.33,120.07 415.00,119.71 C415.67,119.35 416.33,118.99 417.00,118.63 C417.67,118.27 418.33,117.91 419.00,117.55 C419.67,117.19 420.33,116.84 421.00,116.48 C421.67,116.13 422.33,115.77 423.00,115.42 C423.67,115.07 424.33,114.72 425.00,114.37 C425.67,114.02 426.33,113.67 427.00,113.32 C427.67,112.97 428.33,112.63 429.00,112.28 C429.67,111.94 430.33,111.60 431.00,111.26 C431.67,110.92 432.33,110.58 433.00,110.24 C433.67,109.90 434.33,109.56 435.00,109.23 C435.67,108.90 436.33,108.56 437.00,108.23 C437.67,107.90 438.33,107.57 439.00,107.25 C439.67,106.92 440.33,106.60 441.00,106.27 C441.67,105.95 442.33,105.63 443.00,105.31 C443.67,104.99 444.33,104.68 445.00,104.36 C445.67,104.05 446.33,103.73 447.00,103.42 C447.67,103.11 448.33,102.81 449.00,102.50 C449.67,102.20 450.33,101.89 451.00,101.59 C451.67,101.29 452.33,100.99 453.00,100.70 C453.67,100.40 454.33,100.11 455.00,99.82 C455.67,99.52 456.33,99.24 457.00,98.95 C457.67,98.66 458.33,98.38 459.00,98.10 C459.67,97.82 460.33,97.54 461.00,97.27 C461.67,96.99 462.33,96.72 463.00,96.45 C463.67,96.18 464.37,95.90 465.00,95.65 C465.63,95.40 466.50,95.06 466.80,94.95 L466.80,102.49 C466.50,102.60 465.63,102.93 465.00,103.17 C464.37,103.41 463.67,103.68 463.00,103.94 C462.33,104.20 461.67,104.46 461.00,104.72 C460.33,104.98 459.67,105.25 459.00,105.51 C458.33,105.78 457.67,106.05 457.00,106.32 C456.33,106.59 455.67,106.86 455.00,107.14 C454.33,107.41 453.67,107.69 453.00,107.97 C452.33,108.25 451.67,108.53 451.00,108.81 C450.33,109.09 449.67,109.38 449.00,109.67 C448.33,109.95 447.67,110.24 447.00,110.53 C446.33,110.82 445.67,111.11 445.00,111.41 C444.33,111.70 443.67,112.00 443.00,112.29 C442.33,112.59 441.67,112.89 441.00,113.19 C440.33,113.49 439.67,113.79 439.00,114.10 C438.33,114.40 437.67,114.71 437.00,115.01 C436.33,115.32 435.67,115.63 435.00,115.94 C434.33,116.25 433.67,116.56 433.00,116.87 C432.33,117.18 431.67,117.50 431.00,117.81 C430.33,118.13 429.67,118.45 429.00,118.76 C428.33,119.08 427.67,119.40 427.00,119.72 C426.33,120.04 425.67,120.37 425.00,120.69 C424.33,121.01 423.67,121.34 423.00,121.66 C422.33,121.99 421.67,122.31 421.00,122.64 C420.33,122.97 419.67,123.30 419.00,123.63 C418.33,123.96 417.67,124.29 417.00,124.62 C416.33,124.95 415.67,125.29 415.00,125.62 C414.33,125.95 413.67,126.29 413.00,126.62 C412.33,126.96 411.67,127.29 411.00,127.63 C410.33,127.97 409.67,128.31 409.00,128.65 C408.33,128.98 407.67,129.32 407.00,129.66 C406.33,130.00 405.67,130.35 405.00,130.69 C404.33,131.03 403.67,131.37 403.00,131.71 C402.33,132.06 401.67,132.40 401.00,132.74 C400.33,133.09 399.67,133.43 399.00,133.78 C398.33,134.12 397.67,134.47 397.00,134.81 C396.33,135.16 395.67,135.50 395.00,135.85 C394.33,136.20 393.67,136.54 393.00,136.89 C392.33,137.24 391.67,137.58 391.00,137.93 C390.33,138.28 389.67,138.62 389.00,138.97 C388.33,139.32 387.67,139.67 387.00,140.01 C386.33,140.36 385.67,140.71 385.00,141.05 C384.33,141.40 383.67,141.75 383.00,142.09 C382.33,142.44 381.67,142.78 381.00,143.13 C380.33,143.48 379.67,143.82 379.00,144.17 C378.33,144.51 377.67,144.85 377.00,145.20 C376.33,145.54 375.67,145.89 375.00,146.23 C374.33,146.57 373.67,146.91 373.00,147.26 C372.33,147.60 371.67,147.94 371.00,148.28 C370.33,148.62 369.67,148.96 369.00,149.30 C368.33,149.64 367.67,149.97 367.00,150.31 C366.33,150.65 365.67,150.98 365.00,151.32 C364.33,151.65 363.67,151.99 363.00,152.32 C362.33,152.65 361.67,152.98 361.00,153.31 C360.33,153.65 359.67,153.98 359.00,154.30 C358.33,154.63 357.67,154.96 357.00,155.28 C356.33,155.61 355.67,155.93 355.00,156.26 C354.33,156.58 353.67,156.90 353.00,157.22 C352.33,157.54 351.67,157.86 351.00,158.18 C350.33,158.49 349.67,158.81 349.00,159.12 C348.33,159.44 347.67,159.75 347.00,160.06 C346.33,160.37 345.67,160.68 345.00,160.98 C344.33,161.29 343.67,161.60 343.00,161.90 C342.33,162.20 341.67,162.50 341.00,162.80 C340.33,163.10 339.67,163.40 339.00,163.69 C338.33,163.99 337.67,164.28 337.00,164.57 C336.33,164.86 335.67,165.15 335.00,165.44 C334.33,165.72 333.67,166.01 333.00,166.29 C332.33,166.57 331.67,166.85 331.00,167.13 C330.33,167.40 329.67,167.68 329.00,167.95 C328.33,168.22 327.67,168.49 327.00,168.76 C326.33,169.03 325.67,169.29 325.00,169.55 C324.33,169.81 323.67,170.07 323.00,170.33 C322.33,170.59 321.67,170.84 321.00,171.09 C320.33,171.34 319.67,171.59 319.00,171.83 C318.33,172.08 317.67,172.32 317.00,172.56 C316.33,172.80 315.67,173.04 315.00,173.27 C314.33,173.50 313.33,173.84 313.00,173.96 Z" stroke="none" stroke-width="1.00" fill="#444444" />
<path d="M313.00,172.39 C313.33,172.21 314.33,171.69 315.00,171.32 C315.67,170.96 316.33,170.58 317.00,170.20 C317.67,169.81 318.33,169.41 319.00,169.01 C319.67,168.60 320.33,168.18 321.00,167.75 C321.67,167.33 322.33,166.89 323.00,166.44 C323.67,166.00 324.33,165.54 325.00,165.08 C325.67,164.61 326.33,164.14 327.00,163.65 C327.67,163.17 328.33,162.68 329.00,162.18 C329.67,161.67 330.33,161.17 331.00,160.65 C331.67,160.13 332.33,159.60 333.00,159.07 C333.67,158.54 334.33,157.99 335.00,157.44 C335.67,156.90 336.33,156.34 337.00,155.77 C337.67,155.21 338.33,154.64 339.00,154.06 C339.67,153.48 340.33,152.89 341.00,152.30 C341.67,151.71 342.33,151.11 343.00,150.50 C343.67,149.90 344.33,149.29 345.00,148.67 C345.67,148.05 346.33,147.43 347.00,146.80 C347.67,146.17 348.33,145.53 349.00,144.89 C349.67,144.25 350.33,143.60 351.00,142.95 C351.67,142.30 352.33,141.64 353.00,140.98 C353.67,140.32 354.33,139.65 355.00,138.98 C355.67,138.31 356.33,137.63 357.00,136.96 C357.67,136.28 358.33,135.59 359.00,134.90 C359.67,134.22 360.33,133.52 361.00,132.83 C361.67,132.13 362.33,131.43 363.00,130.73 C363.67,130.03 364.33,129.33 365.00,128.62 C365.67,127.91 366.33,127.20 367.00,126.48 C367.67,125.77 368.33,125.05 369.00,124.33 C369.67,123.62 370.33,122.89 371.00,122.17 C371.67,121.45 372.33,120.72 373.00,120.00 C373.67,119.27 374.33,118.54 375.00,117.81 C375.67,117.08 376.33,116.35 377.00,115.62 C377.67,114.89 378.33,114.15 379.00,113.42 C379.67,112.68 380.33,111.95 381.00,111.21 C381.67,110.48 382.33,109.74 383.00,109.01 C383.67,108.27 384.33,107.53 385.00,106.80 C385.67,106.06 386.33,105.33 387.00,104.59 C387.67,103.86 388.33,103.12 389.00,102.39 C389.67,101.65 390.33,100.92 391.00,100.19 C391.67,99.46 392.33,98.73 393.00,98.00 C393.67,97.27 394.33,96.54 395.00,95.81 C395.67,95.09 396.33,94.36 397.00,93.64 C397.67,92.92 398.33,92.20 399.00,91.48 C399.67,90.76 400.33,90.05 401.00,89.33 C401.67,88.62 402.33,87.91 403.00,87.20 C403.67,86.50 404.33,85.79 405.00,85.09 C405.67,84.39 406.33,83.69 407.00,83.00 C407.67,82.31 408.33,81.62 409.00,80.93 C409.67,80.24 410.33,79.56 411.00,78.88 C411.67,78.20 412.33,77.53 413.00,76.86 C413.67,76.19 414.33,75.53 415.00,74.87 C415.67,74.21 416.33,73.55 417.00,72.90 C417.67,72.25 418.33,71.61 419.00,70.97 C419.67,70.33 420.33,69.70 421.00,69.07 C421.67,68.44 422.33,67.82 423.00,67.20 C423.67,66.59 424.33,65.98 425.00,65.37 C425.67,64.77 426.33,64.17 427.00,63.58 C427.67,62.99 428.33,62.41 429.00,61.83 C429.67,61.26 430.33,60.69 431.00,60.13 C431.67,59.57 432.33,59.01 433.00,58.46 C433.67,57.92 434.33,57.38 435.00,56.85 C435.67,56.32 436.33,55.79 437.00,55.28 C437.67,54.77 438.33,54.26 439.00,53.76 C439.67,53.26 440.33,52.77 441.00,52.29 C441.67,51.81 442.33,51.34 443.00,50.88 C443.67,50.42 444.33,49.97 445.00,49.52 C445.67,49.08 446.33,48.65 447.00,48.22 C447.67,47.80 448.33,47.39 449.00,46.98 C449.67,46.58 450.33,46.19 451.00,45.80 C451.67,45.42 452.33,45.05 453.00,44.69 C453.67,44.33 454.33,43.98 455.00,43.64 C455.67,43.30 456.33,42.97 457.00,42.65 C457.67,42.33 458.33,42.03 459.00,41.74 C459.67,41.44 460.33,41.16 461.00,40.89 C461.67,40.62 462.33,40.36 463.00,40.12 C463.67,39.87 464.33,39.64 465.00,39.42 C465.67,39.20 466.57,38.93 467.00,38.80 C467.43,38.67 467.50,38.65 467.60,38.63 L467.60,55.69 C467.50,55.73 467.43,55.75 467.00,55.94 C466.57,56.13 465.67,56.52 465.00,56.82 C464.33,57.12 463.67,57.44 463.00,57.76 C462.33,58.08 461.67,58.40 461.00,58.74 C460.33,59.08 459.67,59.42 459.00,59.78 C458.33,60.13 457.67,60.49 457.00,60.86 C456.33,61.23 455.67,61.61 455.00,61.99 C454.33,62.38 453.67,62.77 453.00,63.17 C452.33,63.57 451.67,63.98 451.00,64.39 C450.33,64.81 449.67,65.23 449.00,65.66 C448.33,66.08 447.67,66.52 447.00,66.96 C446.33,67.40 445.67,67.85 445.00,68.31 C444.33,68.76 443.67,69.23 443.00,69.69 C442.33,70.16 441.67,70.64 441.00,71.12 C440.33,71.60 439.67,72.08 439.00,72.57 C438.33,73.07 437.67,73.56 437.00,74.07 C436.33,74.57 435.67,75.08 435.00,75.59 C434.33,76.11 433.67,76.63 433.00,77.15 C432.33,77.67 431.67,78.20 431.00,78.74 C430.33,79.27 429.67,79.81 429.00,80.35 C428.33,80.90 427.67,81.45 427.00,82.00 C426.33,82.55 425.67,83.11 425.00,83.67 C424.33,84.23 423.67,84.79 423.00,85.36 C422.33,85.93 421.67,86.50 421.00,87.08 C420.33,87.66 419.67,88.24 419.00,88.82 C418.33,89.40 417.67,89.99 417.00,90.58 C416.33,91.17 415.67,91.76 415.00,92.36 C414.33,92.96 413.67,93.56 413.00,94.16 C412.33,94.76 411.67,95.36 411.00,95.97 C410.33,96.58 409.67,97.19 409.00,97.80 C408.33,98.41 407.67,99.02 407.00,99.64 C406.33,100.26 405.67,100.87 405.00,101.49 C404.33,102.11 403.67,102.73 403.00,103.36 C402.33,103.98 401.67,104.60 401.00,105.23 C400.33,105.85 399.67,106.48 399.00,107.11 C398.33,107.74 397.67,108.37 397.00,109.00 C396.33,109.63 395.67,110.26 395.00,110.89 C394.33,111.52 393.67,112.15 393.00,112.78 C392.33,113.42 391.67,114.05 391.00,114.68 C390.33,115.31 389.67,115.95 389.00,116.58 C388.33,117.21 387.67,117.85 387.00,118.48 C386.33,119.11 385.67,119.74 385.00,120.37 C384.33,121.01 383.67,121.64 383.00,122.27 C382.33,122.90 381.67,123.53 381.00,124.15 C380.33,124.78 379.67,125.41 379.00,126.03 C378.33,126.66 377.67,127.28 377.00,127.91 C376.33,128.53 375.67,129.15 375.00,129.77 C374.33,130.39 373.67,131.01 373.00,131.62 C372.33,132.24 371.67,132.85 371.00,133.47 C370.33,134.08 369.67,134.69 369.00,135.29 C368.33,135.90 367.67,136.51 367.00,137.11 C366.33,137.71 365.67,138.31 365.00,138.90 C364.33,139.50 363.67,140.09 363.00,140.68 C362.33,141.27 361.67,141.86 361.00,142.45 C360.33,143.03 359.67,143.61 359.00,144.19 C358.33,144.76 357.67,145.34 357.00,145.90 C356.33,146.47 355.67,147.04 355.00,147.60 C354.33,148.16 353.67,148.72 353.00,149.27 C352.33,149.82 351.67,150.37 351.00,150.91 C350.33,151.46 349.67,152.00 349.00,152.53 C348.33,153.07 347.67,153.60 347.00,154.12 C346.33,154.64 345.67,155.16 345.00,155.68 C344.33,156.19 343.67,156.70 343.00,157.20 C342.33,157.71 341.67,158.21 341.00,158.70 C340.33,159.19 339.67,159.68 339.00,160.16 C338.33,160.64 337.67,161.11 337.00,161.58 C336.33,162.05 335.67,162.51 335.00,162.97 C334.33,163.42 333.67,163.87 333.00,164.31 C332.33,164.76 331.67,165.19 331.00,165.62 C330.33,166.05 329.67,166.47 329.00,166.89 C328.33,167.30 327.67,167.71 327.00,168.11 C326.33,168.51 325.67,168.90 325.00,169.29 C324.33,169.67 323.67,170.05 323.00,170.42 C322.33,170.79 321.67,171.15 321.00,171.50 C320.33,171.86 319.67,172.20 319.00,172.54 C318.33,172.88 317.67,173.21 317.00,173.53 C316.33,173.85 315.67,174.16 315.00,174.46 C314.33,174.77 313.33,175.20 313.00,175.35 Z" stroke="none" stroke-width="1.00" fill="#000" />
<line x1="381.50" y1="112.75" x2="381.50" y2="122.12" stroke="#a8a8a8" stroke-width="1.1" stroke-dasharray="3.91 1.56"/>
<line x1="395.00" y1="98.23" x2="395.00" y2="109.08" stroke="#a8a8a8" stroke-width="1.1" stroke-dasharray="4.52 1.81"/>
<line x1="408.20" y1="84.44" x2="408.20" y2="96.52" stroke="#a8a8a8" stroke-width="1.1" stroke-dasharray="5.03 2.01"/>
<line x1="422.20" y1="70.85" x2="422.20" y2="83.88" stroke="#a8a8a8" stroke-width="1.1" stroke-dasharray="5.43 2.17"/>
<line x1="436.60" y1="58.60" x2="436.60" y2="72.12" stroke="#a8a8a8" stroke-width="1.1" stroke-dasharray="5.63 2.25"/>
<line x1="449.60" y1="49.61" x2="449.60" y2="63.04" stroke="#a8a8a8" stroke-width="1.1" stroke-dasharray="5.59 2.24"/>
<line x1="464.40" y1="42.42" x2="464.40" y2="55.00" stroke="#a8a8a8" stroke-width="1.1" stroke-dasharray="5.24 2.10"/>
<path d="M313.00,172.77 L315.00,172.28 L317.00,171.78 L319.00,171.26 L321.00,170.73 L323.00,170.19 L325.00,169.63 L327.00,169.06 L329.00,168.48 L331.00,167.89 L333.00,167.29 L335.00,166.67 L337.00,166.05 L339.00,165.41 L341.00,164.76 L343.00,164.10 L345.00,163.43 L347.00,162.75 L349.00,162.06 L351.00,161.36 L353.00,160.66 L355.00,159.94 L357.00,159.21 L359.00,158.48 L361.00,157.73 L363.00,156.98 L365.00,156.22 L367.00,155.45 L369.00,154.67 L371.00,153.89 L373.00,153.10 L375.00,152.30 L377.00,151.50 L379.00,150.69 L381.00,149.87 L383.00,149.04 L385.00,148.22 L387.00,147.38 L389.00,146.54 L391.00,145.69 L393.00,144.84 L395.00,143.99 L397.00,143.13 L399.00,142.26 L401.00,141.39 L403.00,140.52 L405.00,139.64 L407.00,138.76 L409.00,137.88 L411.00,136.99 L413.00,136.10 L415.00,135.21 L417.00,134.32 L419.00,133.42 L421.00,132.52 L423.00,131.62 L425.00,130.72 L427.00,129.82 L429.00,128.92 L431.00,128.01 L433.00,127.11 L435.00,126.20 L437.00,125.30 L439.00,124.39 L441.00,123.49 L443.00,122.58 L445.00,121.68 L447.00,120.78 L449.00,119.88 L451.00,118.98 L453.00,118.08 L455.00,117.18 L457.00,116.29 L459.00,115.39 L461.00,114.51 L463.00,113.62 L465.00,112.73 L466.60,112.03" stroke="#000" stroke-width="1.90" fill="none" stroke-dasharray="4.8 2.3"/>
<line x1="357.50" y1="160.60" x2="359.50" y2="160.60" stroke="#000" stroke-width="1.60" />
<line x1="362.20" y1="160.60" x2="364.20" y2="160.60" stroke="#000" stroke-width="1.60" />
<line x1="367.20" y1="160.60" x2="369.20" y2="160.60" stroke="#000" stroke-width="1.60" />
<text x="374.20" y="164.40" font-size="7.90" text-anchor="start" fill="#222" stroke="#222" font-weight="normal" >Glu-plgn</text>
<text x="472.00" y="50.50" font-size="7.80" text-anchor="start" fill="#000" stroke="#000" font-weight="normal" >+ polyP</text>
<text x="501.00" y="50.00" font-size="9.60" text-anchor="start" fill="#000" stroke="#000" font-weight="normal" >***</text>
<text x="472.00" y="100.70" font-size="7.80" text-anchor="start" fill="#222" stroke="#222" font-weight="normal" >+ RNA</text>
<text x="497.90" y="99.40" font-size="9.60" text-anchor="start" fill="#000" stroke="#000" font-weight="normal" >***</text>
<text x="472.50" y="118.20" font-size="7.80" text-anchor="start" fill="#bdbdbd" stroke="#bdbdbd" font-weight="normal" >+ collagen</text>
<line x1="51.40" y1="241.80" x2="51.40" y2="396.10" stroke="#000" stroke-width="1.65" />
<line x1="48.80" y1="395.40" x2="206.50" y2="395.40" stroke="#000" stroke-width="1.65" />
<line x1="48.80" y1="395.40" x2="51.40" y2="395.40" stroke="#000" stroke-width="1.65" />
<text x="44.60" y="398.30" font-size="8.40" text-anchor="end" fill="#222" stroke="#222" font-weight="normal" >0</text>
<line x1="48.80" y1="347.97" x2="51.40" y2="347.97" stroke="#000" stroke-width="1.65" />
<text x="44.60" y="350.87" font-size="8.40" text-anchor="end" fill="#222" stroke="#222" font-weight="normal" >100</text>
<line x1="48.80" y1="300.54" x2="51.40" y2="300.54" stroke="#000" stroke-width="1.65" />
<text x="44.60" y="303.44" font-size="8.40" text-anchor="end" fill="#222" stroke="#222" font-weight="normal" >200</text>
<line x1="48.80" y1="253.11" x2="51.40" y2="253.11" stroke="#000" stroke-width="1.65" />
<text x="44.60" y="256.01" font-size="8.40" text-anchor="end" fill="#222" stroke="#222" font-weight="normal" >300</text>
<rect x="57.10" y="256.80" width="25.60" height="138.60" fill="#404040"/>
<line x1="69.90" y1="253.10" x2="69.90" y2="256.80" stroke="#000" stroke-width="1.40" />
<line x1="63.10" y1="253.10" x2="76.70" y2="253.10" stroke="#000" stroke-width="1.40" />
<line x1="69.90" y1="395.40" x2="69.90" y2="398.60" stroke="#000" stroke-width="1.65" />
<rect x="95.20" y="312.00" width="26.80" height="83.40" fill="#000000"/>
<line x1="108.60" y1="308.70" x2="108.60" y2="312.00" stroke="#000" stroke-width="1.40" />
<line x1="101.80" y1="308.70" x2="115.40" y2="308.70" stroke="#000" stroke-width="1.40" />
<line x1="108.60" y1="395.40" x2="108.60" y2="398.60" stroke="#000" stroke-width="1.65" />
<rect x="133.80" y="248.00" width="26.80" height="147.40" fill="#bebebe"/>
<line x1="147.20" y1="244.50" x2="147.20" y2="248.00" stroke="#000" stroke-width="1.40" />
<line x1="140.40" y1="244.50" x2="154.00" y2="244.50" stroke="#000" stroke-width="1.40" />
<line x1="147.20" y1="395.40" x2="147.20" y2="398.60" stroke="#000" stroke-width="1.65" />
<rect x="173.10" y="262.60" width="26.10" height="132.80" fill="#808080"/>
<line x1="186.15" y1="260.60" x2="186.15" y2="262.60" stroke="#000" stroke-width="1.40" />
<line x1="179.35" y1="260.60" x2="192.95" y2="260.60" stroke="#000" stroke-width="1.40" />
<line x1="186.15" y1="395.40" x2="186.15" y2="398.60" stroke="#000" stroke-width="1.65" />
<text x="108.60" y="306.80" font-size="9.60" text-anchor="middle" fill="#000" stroke="#000" font-weight="normal" >***</text>
<text transform="translate(75.80,405.40) rotate(-45)" font-size="8.60" text-anchor="end" fill="#222" stroke="#222">αFXIIa</text>
<text transform="translate(113.50,404.90) rotate(-45)" font-size="8.20" text-anchor="end" fill="#222" stroke="#222">polyP<tspan font-size="5.8" dy="1.8">70</tspan></text>
<text transform="translate(152.40,405.60) rotate(-45)" font-size="8.60" text-anchor="end" fill="#222" stroke="#222">RNA</text>
<text transform="translate(191.00,405.70) rotate(-45)" font-size="8.60" text-anchor="end" fill="#222" stroke="#222">Collagen</text>
<text transform="translate(25.3,317.5) rotate(-90)" font-size="9.7" text-anchor="middle" fill="#222" stroke="#222">50% lysis time (min)</text>
<text transform="translate(7.7,237.9) scale(0.95,1)" font-size="12" font-weight="bold" fill="#000">C</text>
<line x1="313.10" y1="245.60" x2="313.10" y2="396.10" stroke="#000" stroke-width="1.65" />
<line x1="312.40" y1="395.40" x2="465.20" y2="395.40" stroke="#000" stroke-width="1.65" />
<line x1="310.40" y1="395.40" x2="313.10" y2="395.40" stroke="#000" stroke-width="1.65" />
<text x="306.90" y="398.30" font-size="8.40" text-anchor="end" fill="#222" stroke="#222" font-weight="normal" >0</text>
<line x1="310.40" y1="361.40" x2="313.10" y2="361.40" stroke="#000" stroke-width="1.65" />
<text x="306.90" y="364.30" font-size="8.40" text-anchor="end" fill="#222" stroke="#222" font-weight="normal" >25</text>
<line x1="310.40" y1="327.40" x2="313.10" y2="327.40" stroke="#000" stroke-width="1.65" />
<text x="306.90" y="330.30" font-size="8.40" text-anchor="end" fill="#222" stroke="#222" font-weight="normal" >50</text>
<line x1="310.40" y1="293.40" x2="313.10" y2="293.40" stroke="#000" stroke-width="1.65" />
<text x="306.90" y="296.30" font-size="8.40" text-anchor="end" fill="#222" stroke="#222" font-weight="normal" >75</text>
<line x1="310.40" y1="259.40" x2="313.10" y2="259.40" stroke="#000" stroke-width="1.65" />
<text x="306.90" y="262.30" font-size="8.40" text-anchor="end" fill="#222" stroke="#222" font-weight="normal" >100</text>
<line x1="313.10" y1="395.40" x2="313.10" y2="398.20" stroke="#000" stroke-width="1.65" />
<text x="313.10" y="409.60" font-size="8.40" text-anchor="middle" fill="#222" stroke="#222" font-weight="normal" >0</text>
<line x1="343.02" y1="395.40" x2="343.02" y2="398.20" stroke="#000" stroke-width="1.65" />
<text x="343.02" y="409.60" font-size="8.40" text-anchor="middle" fill="#222" stroke="#222" font-weight="normal" >50</text>
<line x1="372.94" y1="395.40" x2="372.94" y2="398.20" stroke="#000" stroke-width="1.65" />
<text x="372.94" y="409.60" font-size="8.40" text-anchor="middle" fill="#222" stroke="#222" font-weight="normal" >100</text>
<line x1="402.86" y1="395.40" x2="402.86" y2="398.20" stroke="#000" stroke-width="1.65" />
<text x="402.86" y="409.60" font-size="8.40" text-anchor="middle" fill="#222" stroke="#222" font-weight="normal" >150</text>
<line x1="432.78" y1="395.40" x2="432.78" y2="398.20" stroke="#000" stroke-width="1.65" />
<text x="432.78" y="409.60" font-size="8.40" text-anchor="middle" fill="#222" stroke="#222" font-weight="normal" >200</text>
<line x1="462.70" y1="395.40" x2="462.70" y2="398.20" stroke="#000" stroke-width="1.65" />
<text x="462.70" y="409.60" font-size="8.40" text-anchor="middle" fill="#222" stroke="#222" font-weight="normal" >250</text>
<text x="390.00" y="423.60" font-size="10.00" text-anchor="middle" fill="#222" stroke="#222" font-weight="normal" textLength="44" lengthAdjust="spacingAndGlyphs">Time (min)</text>
<text transform="translate(286.3,320.8) rotate(-90)" font-size="9.6" text-anchor="middle" fill="#222" stroke="#222">% turbidity</text>
<text transform="translate(276.0,237.8) scale(0.92,1)" font-size="12" font-weight="bold" fill="#000">D</text>
<path d="M352.00,262.60 C356.67,263.47 369.50,265.88 380.00,267.80 C390.50,269.72 405.00,272.32 415.00,274.10 C425.00,275.88 432.05,276.87 440.00,278.50 C447.95,280.13 458.92,283.00 462.70,283.90 L462.70,294.00 C458.92,293.07 446.45,289.97 440.00,288.40 C433.55,286.83 429.00,285.80 424.00,284.60 C419.00,283.40 414.67,282.17 410.00,281.20 C405.33,280.23 401.00,279.77 396.00,278.80 C391.00,277.83 384.83,276.57 380.00,275.40 C375.17,274.23 371.67,273.17 367.00,271.80 C362.33,270.43 354.50,267.97 352.00,267.20 Z" stroke="none" stroke-width="1.00" fill="#d9d9d9" />
<path d="M345.04,264.97 L346.38,265.53 L347.75,266.07 L349.13,266.58 L350.54,267.07 L351.96,267.54 L353.40,268.00 L354.85,268.44 L356.31,268.87 L357.78,269.29 L359.26,269.70 L360.75,270.11 L362.24,270.52 L363.73,270.94 L365.22,271.35 L366.71,271.78 L368.19,272.21 L369.67,272.66 L371.15,273.12 L372.61,273.60 L374.06,274.10 L375.50,274.62 L376.92,275.17 L378.33,275.74 L379.71,276.35 L381.08,276.99 L382.42,277.66 L383.74,278.37 L385.03,279.13 L386.30,279.92 L387.54,280.75 L388.76,281.62 L389.95,282.52 L391.12,283.45 L392.26,284.42 L393.38,285.41 L394.48,286.43 L395.56,287.48 L396.61,288.55 L397.64,289.64 L398.66,290.75 L399.65,291.89 L400.62,293.04 L401.58,294.20 L402.51,295.38 L403.43,296.57 L404.33,297.78 L405.21,299.00 L406.08,300.23 L406.92,301.47 L407.75,302.73 L408.57,304.00 L409.37,305.27 L410.15,306.56 L410.92,307.86 L411.68,309.17 L412.42,310.48 L413.15,311.81 L413.86,313.14 L414.56,314.49 L415.25,315.84 L415.93,317.20 L416.59,318.56 L417.24,319.93 L417.88,321.31 L418.51,322.70 L419.13,324.09 L419.74,325.48 L420.34,326.88 L420.93,328.29 L421.51,329.70 L422.08,331.11 L422.65,332.53 L423.20,333.95 L423.76,335.37 L424.30,336.79 L424.84,338.22 L425.37,339.65 L425.91,341.08 L426.43,342.51 L426.96,343.94 L427.48,345.37 L428.01,346.80 L428.53,348.22 L429.05,349.65 L429.58,351.08 L430.10,352.50 L430.63,353.92 L431.16,355.34 L431.70,356.76 L432.24,358.17 L432.78,359.58 L433.34,360.99 L433.90,362.39 L434.46,363.79 L435.04,365.18 L435.62,366.56 L436.21,367.94 L436.81,369.31 L437.43,370.68 L438.05,372.04 L438.69,373.39 L439.34,374.73 L440.01,376.07 L440.69,377.40 L441.38,378.71 L442.09,380.02 L442.82,381.32 L443.56,382.61 L444.33,383.89 L445.12,385.14 L445.94,386.38 L446.80,387.60 L447.70,388.78 L448.64,389.93 L449.64,391.05 L450.70,392.12 L451.82,393.15 L453.00,394.12 L454.27,395.04" stroke="#aaaaaa" stroke-width="4.40" fill="none" stroke-dasharray="0.8 1.1" stroke-linejoin="round"/>
<path d="M345.04,264.97 L346.38,265.53 L347.75,266.07 L349.13,266.58 L350.54,267.07 L351.96,267.54 L353.40,268.00 L354.85,268.44 L356.31,268.87 L357.78,269.29 L359.26,269.70 L360.75,270.11 L362.24,270.52 L363.73,270.94 L365.22,271.35 L366.71,271.78 L368.19,272.21 L369.67,272.66 L371.15,273.12 L372.61,273.60 L374.06,274.10 L375.50,274.62 L376.92,275.17 L378.33,275.74 L379.71,276.35 L381.08,276.99 L382.42,277.66 L383.74,278.37 L385.03,279.13 L386.30,279.92 L387.54,280.75 L388.76,281.62 L389.95,282.52 L391.12,283.45 L392.26,284.42 L393.38,285.41 L394.48,286.43 L395.56,287.48 L396.61,288.55 L397.64,289.64 L398.66,290.75 L399.65,291.89 L400.62,293.04 L401.58,294.20 L402.51,295.38 L403.43,296.57 L404.33,297.78 L405.21,299.00 L406.08,300.23 L406.92,301.47 L407.75,302.73 L408.57,304.00 L409.37,305.27 L410.15,306.56 L410.92,307.86 L411.68,309.17 L412.42,310.48 L413.15,311.81 L413.86,313.14 L414.56,314.49 L415.25,315.84 L415.93,317.20 L416.59,318.56 L417.24,319.93 L417.88,321.31 L418.51,322.70 L419.13,324.09 L419.74,325.48 L420.34,326.88 L420.93,328.29 L421.51,329.70 L422.08,331.11 L422.65,332.53 L423.20,333.95 L423.76,335.37 L424.30,336.79 L424.84,338.22 L425.37,339.65 L425.91,341.08 L426.43,342.51 L426.96,343.94 L427.48,345.37 L428.01,346.80 L428.53,348.22 L429.05,349.65 L429.58,351.08 L430.10,352.50 L430.63,353.92 L431.16,355.34 L431.70,356.76 L432.24,358.17 L432.78,359.58 L433.34,360.99 L433.90,362.39 L434.46,363.79 L435.04,365.18 L435.62,366.56 L436.21,367.94 L436.81,369.31 L437.43,370.68 L438.05,372.04 L438.69,373.39 L439.34,374.73 L440.01,376.07 L440.69,377.40 L441.38,378.71 L442.09,380.02 L442.82,381.32 L443.56,382.61 L444.33,383.89 L445.12,385.14 L445.94,386.38 L446.80,387.60 L447.70,388.78 L448.64,389.93 L449.64,391.05 L450.70,392.12 L451.82,393.15 L453.00,394.12 L454.27,395.04" stroke="#a0a0a0" stroke-width="2.60" fill="none" stroke-linejoin="round" opacity="1"/>
<path d="M315.67,290.07 L315.56,288.66 L315.50,287.19 L315.47,285.68 L315.48,284.12 L315.54,282.54 L315.64,280.94 L315.79,279.32 L315.98,277.69 L316.23,276.07 L316.52,274.45 L316.87,272.85 L317.27,271.27 L317.72,269.72 L318.23,268.21 L318.80,266.75 L319.43,265.34 L320.12,263.99 L320.88,262.71 L321.69,261.51 L322.58,260.39 L323.53,259.36 L324.55,258.44 L325.64,257.62 L326.80,256.92 L328.03,256.33 L329.34,255.88 L330.73,255.57 L332.19,255.40 L333.72,255.38 L335.31,255.48 L336.94,255.71 L338.60,256.04 L340.26,256.46 L341.91,256.97 L343.53,257.54 L345.12,258.17 L346.65,258.83 L348.11,259.53 L349.48,260.25 L350.74,260.97 L351.88,261.68 L352.89,262.36 L352.98,270.31 L351.85,269.24 L350.64,268.23 L349.35,267.27 L347.99,266.38 L346.57,265.56 L345.11,264.81 L343.61,264.14 L342.08,263.56 L340.54,263.07 L338.98,262.67 L337.43,262.38 L335.89,262.19 L334.38,262.12 L332.89,262.17 L331.44,262.34 L330.03,262.63 L328.68,263.04 L327.38,263.56 L326.15,264.21 L324.99,264.97 L323.91,265.86 L322.90,266.85 L321.97,267.94 L321.12,269.13 L320.34,270.41 L319.64,271.75 L319.01,273.17 L318.45,274.64 L317.96,276.17 L317.54,277.73 L317.19,279.33 L316.91,280.94 L316.69,282.58 L316.53,284.21 L316.44,285.85 L316.42,287.47 L316.45,289.07 L316.54,290.64 L316.70,292.16 Z" fill="#a9a9a9"/>
<path d="M315.67,290.07 L315.56,288.66 L315.50,287.19 L315.47,285.68 L315.48,284.12 L315.54,282.54 L315.64,280.94 L315.79,279.32 L315.98,277.69 L316.23,276.07 L316.52,274.45 L316.87,272.85 L317.27,271.27 L317.72,269.72 L318.23,268.21 L318.80,266.75 L319.43,265.34 L320.12,263.99 L320.88,262.71 L321.69,261.51 L322.58,260.39 L323.53,259.36 L324.55,258.44 L325.64,257.62 L326.80,256.92 L328.03,256.33 L329.34,255.88 L330.73,255.57 L332.19,255.40 L333.72,255.38 L335.31,255.48 L336.94,255.71 L338.60,256.04 L340.26,256.46 L341.91,256.97 L343.53,257.54 L345.12,258.17 L346.65,258.83 L348.11,259.53 L349.48,260.25 L350.74,260.97 L351.88,261.68 L352.89,262.36" stroke="#111" stroke-width="1.70" fill="none" />
<path d="M316.70,292.16 L316.54,290.64 L316.45,289.07 L316.42,287.47 L316.44,285.85 L316.53,284.21 L316.69,282.58 L316.91,280.94 L317.19,279.33 L317.54,277.73 L317.96,276.17 L318.45,274.64 L319.01,273.17 L319.64,271.75 L320.34,270.41 L321.12,269.13 L321.97,267.94 L322.90,266.85 L323.91,265.86 L324.99,264.97 L326.15,264.21 L327.38,263.56 L328.68,263.04 L330.03,262.63 L331.44,262.34 L332.89,262.17 L334.38,262.12 L335.89,262.19 L337.43,262.38 L338.98,262.67 L340.54,263.07 L342.08,263.56 L343.61,264.14 L345.11,264.81 L346.57,265.56 L347.99,266.38 L349.35,267.27 L350.64,268.23" stroke="#222" stroke-width="1.40" fill="none" />
<path d="M313.43,395.47 L313.50,393.96 L313.56,392.45 L313.62,390.94 L313.68,389.43 L313.73,387.92 L313.77,386.41 L313.82,384.90 L313.85,383.38 L313.89,381.87 L313.92,380.35 L313.94,378.84 L313.97,377.32 L313.99,375.80 L314.01,374.29 L314.02,372.77 L314.03,371.25 L314.04,369.73 L314.05,368.21 L314.06,366.69 L314.06,365.17 L314.07,363.65 L314.07,362.13 L314.07,360.61 L314.07,359.09 L314.07,357.57 L314.07,356.04 L314.07,354.52 L314.07,353.00 L314.06,351.48 L314.06,349.95 L314.06,348.43 L314.06,346.91 L314.06,345.39 L314.07,343.86 L314.07,342.34 L314.08,340.82 L314.08,339.29 L314.09,337.77 L314.10,336.25 L314.11,334.73 L314.13,333.20 L314.15,331.68 L314.17,330.16 L314.19,328.64 L314.22,327.12 L314.25,325.60 L314.28,324.08 L314.32,322.56 L314.36,321.04 L314.41,319.52" stroke="#555" stroke-width="3.00" fill="none" stroke-dasharray="0.7 2.2" stroke-linejoin="round"/>
<path d="M313.43,395.47 L313.50,393.96 L313.56,392.45 L313.62,390.94 L313.68,389.43 L313.73,387.92 L313.77,386.41 L313.82,384.90 L313.85,383.38 L313.89,381.87 L313.92,380.35 L313.94,378.84 L313.97,377.32 L313.99,375.80 L314.01,374.29 L314.02,372.77 L314.03,371.25 L314.04,369.73 L314.05,368.21 L314.06,366.69 L314.06,365.17 L314.07,363.65 L314.07,362.13 L314.07,360.61 L314.07,359.09 L314.07,357.57 L314.07,356.04 L314.07,354.52 L314.07,353.00 L314.06,351.48 L314.06,349.95 L314.06,348.43 L314.06,346.91 L314.06,345.39 L314.07,343.86 L314.07,342.34 L314.08,340.82 L314.08,339.29 L314.09,337.77 L314.10,336.25 L314.11,334.73 L314.13,333.20 L314.15,331.68 L314.17,330.16 L314.19,328.64 L314.22,327.12 L314.25,325.60 L314.28,324.08 L314.32,322.56 L314.36,321.04 L314.41,319.52" stroke="#222" stroke-width="1.20" fill="none" stroke-linejoin="round" opacity="1"/>
<path d="M314.36,321.04 L314.41,319.52 L314.46,318.00 L314.52,316.48 L314.58,314.96 L314.64,313.45 L314.71,311.93 L314.79,310.41 L314.87,308.90 L314.96,307.38 L315.05,305.87 L315.15,304.36 L315.25,302.85 L315.37,301.33 L315.49,299.82 L315.61,298.31 L315.74,296.81 L315.88,295.30 L316.03,293.79 L316.19,292.28 L316.35,290.78 L316.52,289.28 L316.70,287.77 L316.89,286.27 L317.09,284.77 L317.30,283.27 L317.51,281.77 L317.74,280.28 L317.97,278.78 L318.22,277.29 L318.47,275.79 L318.73,274.30 L319.01,272.81 L319.29,271.32 L319.59,269.83 L319.90,268.35 L320.21,266.86 L320.54,265.38" stroke="#444" stroke-width="4.60" fill="none" stroke-dasharray="0.9 1.2" stroke-linejoin="round"/>
<path d="M314.36,321.04 L314.41,319.52 L314.46,318.00 L314.52,316.48 L314.58,314.96 L314.64,313.45 L314.71,311.93 L314.79,310.41 L314.87,308.90 L314.96,307.38 L315.05,305.87 L315.15,304.36 L315.25,302.85 L315.37,301.33 L315.49,299.82 L315.61,298.31 L315.74,296.81 L315.88,295.30 L316.03,293.79 L316.19,292.28 L316.35,290.78 L316.52,289.28 L316.70,287.77 L316.89,286.27 L317.09,284.77 L317.30,283.27 L317.51,281.77 L317.74,280.28 L317.97,278.78 L318.22,277.29 L318.47,275.79 L318.73,274.30 L319.01,272.81 L319.29,271.32 L319.59,269.83 L319.90,268.35 L320.21,266.86 L320.54,265.38" stroke="#2a2a2a" stroke-width="1.60" fill="none" stroke-linejoin="round" opacity="1"/>
<path d="M353.00,262.30 L415.00,272.70 L462.70,281.90" stroke="#000" stroke-width="1.80" fill="none" stroke-dasharray="4.0 1.7"/>
<path d="M345.30,262.02 L346.52,262.99 L347.66,264.01 L348.74,265.07 L349.75,266.19 L350.70,267.34 L351.60,268.54 L352.44,269.77 L353.23,271.04 L353.98,272.33 L354.69,273.66 L355.36,275.01 L356.00,276.38 L356.60,277.77 L357.18,279.17 L357.75,280.59 L358.29,282.02 L358.81,283.46 L359.32,284.90 L359.81,286.36 L360.28,287.82 L360.74,289.29 L361.19,290.77 L361.63,292.25 L362.06,293.73 L362.48,295.22 L362.89,296.71 L363.29,298.20 L363.69,299.70 L364.08,301.19 L364.47,302.68 L364.85,304.17 L365.24,305.65 L365.62,307.14 L365.99,308.62 L366.37,310.10 L366.74,311.58 L367.11,313.06 L367.48,314.53 L367.85,316.01 L368.22,317.48 L368.58,318.96 L368.94,320.43 L369.30,321.90 L369.66,323.38 L370.01,324.85 L370.36,326.32 L370.72,327.80 L371.07,329.27 L371.42,330.74 L371.76,332.22 L372.11,333.69 L372.45,335.17 L372.80,336.65 L373.14,338.13 L373.48,339.61 L373.82,341.09 L374.15,342.58 L374.49,344.07 L374.82,345.56 L375.16,347.05 L375.49,348.54 L375.81,350.04 L376.14,351.54 L376.46,353.05 L376.79,354.56 L377.11,356.07 L377.42,357.59 L377.74,359.12 L378.05,360.64 L378.36,362.18 L378.67,363.72 L378.98,365.26 L379.29,366.80 L379.61,368.34 L379.94,369.87 L380.28,371.39 L380.65,372.91 L381.03,374.40 L381.45,375.89 L381.89,377.35 L382.36,378.79 L382.87,380.20 L383.42,381.59 L384.01,382.95 L384.65,384.27 L385.34,385.56 L386.09,386.81 L386.89,388.01 L387.76,389.17 L388.69,390.29 L389.69,391.35 L390.76,392.36 L391.90,393.31 L393.13,394.21 L394.44,395.04" stroke="#333" stroke-width="4.80" fill="none" stroke-dasharray="0.9 1.1" stroke-linejoin="round"/>
<path d="M345.30,262.02 L346.52,262.99 L347.66,264.01 L348.74,265.07 L349.75,266.19 L350.70,267.34 L351.60,268.54 L352.44,269.77 L353.23,271.04 L353.98,272.33 L354.69,273.66 L355.36,275.01 L356.00,276.38 L356.60,277.77 L357.18,279.17 L357.75,280.59 L358.29,282.02 L358.81,283.46 L359.32,284.90 L359.81,286.36 L360.28,287.82 L360.74,289.29 L361.19,290.77 L361.63,292.25 L362.06,293.73 L362.48,295.22 L362.89,296.71 L363.29,298.20 L363.69,299.70 L364.08,301.19 L364.47,302.68 L364.85,304.17 L365.24,305.65 L365.62,307.14 L365.99,308.62 L366.37,310.10 L366.74,311.58 L367.11,313.06 L367.48,314.53 L367.85,316.01 L368.22,317.48 L368.58,318.96 L368.94,320.43 L369.30,321.90 L369.66,323.38 L370.01,324.85 L370.36,326.32 L370.72,327.80 L371.07,329.27 L371.42,330.74 L371.76,332.22 L372.11,333.69 L372.45,335.17 L372.80,336.65 L373.14,338.13 L373.48,339.61 L373.82,341.09 L374.15,342.58 L374.49,344.07 L374.82,345.56 L375.16,347.05 L375.49,348.54 L375.81,350.04 L376.14,351.54 L376.46,353.05 L376.79,354.56 L377.11,356.07 L377.42,357.59 L377.74,359.12 L378.05,360.64 L378.36,362.18 L378.67,363.72 L378.98,365.26 L379.29,366.80 L379.61,368.34 L379.94,369.87 L380.28,371.39 L380.65,372.91 L381.03,374.40 L381.45,375.89 L381.89,377.35 L382.36,378.79 L382.87,380.20 L383.42,381.59 L384.01,382.95 L384.65,384.27 L385.34,385.56 L386.09,386.81 L386.89,388.01 L387.76,389.17 L388.69,390.29 L389.69,391.35 L390.76,392.36 L391.90,393.31 L393.13,394.21 L394.44,395.04" stroke="#1a1a1a" stroke-width="1.80" fill="none" stroke-linejoin="round" opacity="1"/>
<path d="M348.12,262.38 L349.61,263.04 L351.00,263.80 L352.28,264.64 L353.46,265.56 L354.55,266.56 L355.56,267.63 L356.50,268.76 L357.37,269.94 L358.18,271.18 L358.93,272.45 L359.63,273.77 L360.30,275.12 L360.93,276.49 L361.53,277.88 L362.12,279.28 L362.69,280.68 L363.26,282.09 L363.81,283.50 L364.36,284.92 L364.89,286.34 L365.42,287.76 L365.94,289.18 L366.45,290.61 L366.95,292.04 L367.44,293.47 L367.92,294.91 L368.39,296.35 L368.85,297.79 L369.29,299.24 L369.73,300.70 L370.16,302.15 L370.58,303.62 L370.99,305.08 L371.38,306.55 L371.77,308.03 L372.15,309.50 L372.52,310.98 L372.89,312.47 L373.25,313.95 L373.60,315.44 L373.94,316.93 L374.28,318.43 L374.62,319.92 L374.96,321.42 L375.29,322.92 L375.61,324.41 L375.94,325.91 L376.26,327.41 L376.59,328.91 L376.91,330.41 L377.24,331.91 L377.56,333.40 L377.89,334.90 L378.22,336.40 L378.55,337.89 L378.89,339.38 L379.23,340.87 L379.57,342.36 L379.92,343.84 L380.28,345.33 L380.64,346.81 L381.01,348.28 L381.39,349.75 L381.78,351.22 L382.18,352.68 L382.58,354.14 L383.00,355.60 L383.42,357.05 L383.86,358.49 L384.31,359.93 L384.77,361.36 L385.25,362.79 L385.74,364.21 L386.24,365.62 L386.76,367.03 L387.30,368.43 L387.85,369.82 L388.41,371.20 L389.00,372.58 L389.60,373.95 L390.23,375.30 L390.87,376.66 L391.53,378.00 L392.21,379.33 L392.91,380.65 L393.64,381.96 L394.39,383.27 L395.16,384.56 L395.95,385.84 L396.77,387.11 L397.61,388.37 L398.48,389.62 L399.37,390.85 L400.29,392.08 L401.24,393.29 L402.21,394.49" stroke="#000" stroke-width="5.40" fill="none" stroke-dasharray="1.0 0.9" stroke-linejoin="round"/>
<path d="M348.12,262.38 L349.61,263.04 L351.00,263.80 L352.28,264.64 L353.46,265.56 L354.55,266.56 L355.56,267.63 L356.50,268.76 L357.37,269.94 L358.18,271.18 L358.93,272.45 L359.63,273.77 L360.30,275.12 L360.93,276.49 L361.53,277.88 L362.12,279.28 L362.69,280.68 L363.26,282.09 L363.81,283.50 L364.36,284.92 L364.89,286.34 L365.42,287.76 L365.94,289.18 L366.45,290.61 L366.95,292.04 L367.44,293.47 L367.92,294.91 L368.39,296.35 L368.85,297.79 L369.29,299.24 L369.73,300.70 L370.16,302.15 L370.58,303.62 L370.99,305.08 L371.38,306.55 L371.77,308.03 L372.15,309.50 L372.52,310.98 L372.89,312.47 L373.25,313.95 L373.60,315.44 L373.94,316.93 L374.28,318.43 L374.62,319.92 L374.96,321.42 L375.29,322.92 L375.61,324.41 L375.94,325.91 L376.26,327.41 L376.59,328.91 L376.91,330.41 L377.24,331.91 L377.56,333.40 L377.89,334.90 L378.22,336.40 L378.55,337.89 L378.89,339.38 L379.23,340.87 L379.57,342.36 L379.92,343.84 L380.28,345.33 L380.64,346.81 L381.01,348.28 L381.39,349.75 L381.78,351.22 L382.18,352.68 L382.58,354.14 L383.00,355.60 L383.42,357.05 L383.86,358.49 L384.31,359.93 L384.77,361.36 L385.25,362.79 L385.74,364.21 L386.24,365.62 L386.76,367.03 L387.30,368.43 L387.85,369.82 L388.41,371.20 L389.00,372.58 L389.60,373.95 L390.23,375.30 L390.87,376.66 L391.53,378.00 L392.21,379.33 L392.91,380.65 L393.64,381.96 L394.39,383.27 L395.16,384.56 L395.95,385.84 L396.77,387.11 L397.61,388.37 L398.48,389.62 L399.37,390.85 L400.29,392.08 L401.24,393.29 L402.21,394.49" stroke="#000" stroke-width="2.80" fill="none" stroke-linejoin="round" opacity="1"/>
<text x="347.20" y="381.20" font-size="7.80" text-anchor="start" fill="#333" stroke="#333" font-weight="normal" >+ polyP</text>
<text x="347.20" y="390.80" font-size="7.80" text-anchor="start" fill="#333" stroke="#333" font-weight="normal" >+ tPA</text>
<text x="400.20" y="387.40" font-size="7.80" text-anchor="start" fill="#111" stroke="#111" font-weight="normal" >+ polyP</text>
<text x="450.60" y="387.40" font-size="7.80" text-anchor="start" fill="#c4c4c4" stroke="#c4c4c4" font-weight="normal" >+ tPA</text>
<text x="440.10" y="273.90" font-size="7.80" text-anchor="start" fill="#000" stroke="#000" font-weight="normal" >tPA</text>
<text x="433.60" y="303.70" font-size="8.40" text-anchor="start" fill="#cdcdcd" stroke="#cdcdcd" font-weight="normal" >tPA + polyP</text>
</svg>
<div class="bd" style="left:0;top:1px;width:520px;height:1px;background:#8a8a8a"></div>
<div class="bd" style="left:1px;top:0;width:1px;height:435px;background:#707070"></div>
<div class="bd" style="left:518px;top:0;width:1px;height:435px;background:#6a6a6a"></div>
<div class="bd" style="left:0;top:433px;width:520px;height:1px;background:#6a6a6a"></div>
<div class="bd" style="left:0;top:0;width:520px;height:1px"></div>
<div class="bd" style="left:0;top:0;width:1px;height:435px"></div>
<div class="bd" style="left:519px;top:0;width:1px;height:435px"></div>
<div class="bd" style="left:0;top:434px;width:520px;height:1px"></div>
</body></html>
